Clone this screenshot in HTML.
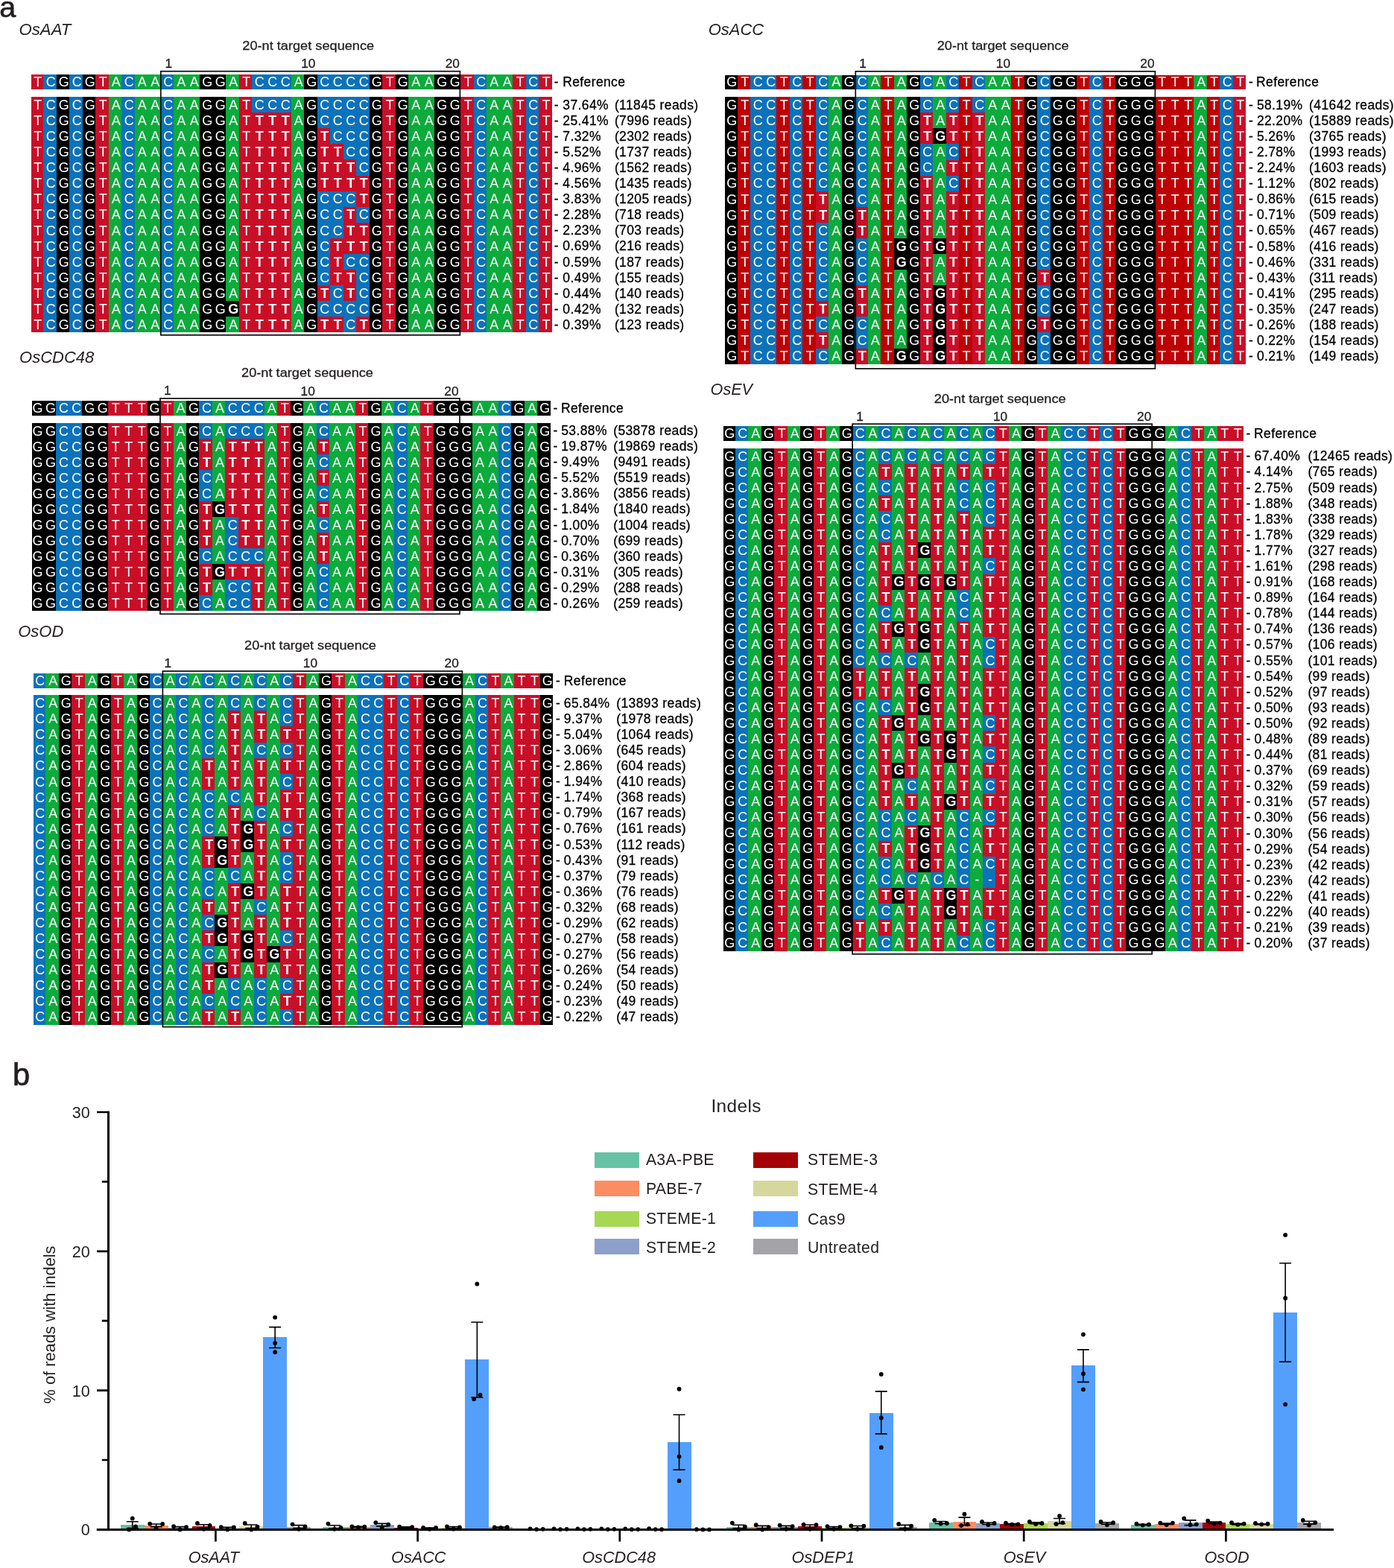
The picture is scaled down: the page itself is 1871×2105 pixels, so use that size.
<!DOCTYPE html>
<html lang="en"><head><meta charset="utf-8"><title>Figure</title>
<style>
html,body{margin:0;padding:0;background:#fff}
body{width:1871px;height:2105px;overflow:hidden}
svg{display:block;font-family:"Liberation Sans", Arial, Helvetica, sans-serif;fill:#231f20}
.s{fill:#fff;font-size:18px;text-anchor:middle}
.m{font-weight:bold}
.k{font-size:17.5px;fill:#000;stroke:#000;stroke-width:0.3px;letter-spacing:0.38px}
.w{stroke:#231f20;stroke-width:0.3px}
</style></head><body>
<svg width="1871" height="2105" viewBox="0 0 1871 2105">
<rect width="1871" height="2105" fill="#fff"/>
<text x="-0.65" y="23.4" font-size="39.5" stroke="#231f20" stroke-width="0.7">a</text>
<text x="16.9" y="1456.5" font-size="41.6" stroke="#231f20" stroke-width="0.7">b</text>
<text x="25.5" y="47" font-size="22.2" font-style="italic">OsAAT</text>
<text transform="translate(325.3 67.1) scale(1.07 1)" font-size="17" class="w">20-nt target sequence</text>
<text x="221.4" y="90.5" font-size="17.3" class="w">1</text>
<text x="404.2" y="90.5" font-size="17.3" class="w">10</text>
<text x="616.9" y="90.5" font-size="17.3" text-anchor="end" class="w">20</text>
<g shape-rendering="crispEdges">
<rect x="42" y="100.4" width="16.1" height="19.4" fill="#c90f28"/>
<rect x="58.1" y="100.4" width="17.5" height="19.4" fill="#0c72ba"/>
<rect x="75.6" y="100.4" width="17.5" height="19.4" fill="#000000"/>
<rect x="93.1" y="100.4" width="17.5" height="19.4" fill="#0c72ba"/>
<rect x="110.6" y="100.4" width="17.5" height="19.4" fill="#000000"/>
<rect x="128.1" y="100.4" width="17.5" height="19.4" fill="#c90f28"/>
<rect x="145.6" y="100.4" width="17.5" height="19.4" fill="#0cab3c"/>
<rect x="163.1" y="100.4" width="17.5" height="19.4" fill="#0c72ba"/>
<rect x="180.6" y="100.4" width="35" height="19.4" fill="#0cab3c"/>
<rect x="215.6" y="100.4" width="17.5" height="19.4" fill="#0c72ba"/>
<rect x="233.1" y="100.4" width="35" height="19.4" fill="#0cab3c"/>
<rect x="268.1" y="100.4" width="35" height="19.4" fill="#000000"/>
<rect x="303.1" y="100.4" width="17.5" height="19.4" fill="#0cab3c"/>
<rect x="320.6" y="100.4" width="17.5" height="19.4" fill="#c90f28"/>
<rect x="338.1" y="100.4" width="52.5" height="19.4" fill="#0c72ba"/>
<rect x="390.6" y="100.4" width="17.5" height="19.4" fill="#0cab3c"/>
<rect x="408.1" y="100.4" width="17.5" height="19.4" fill="#000000"/>
<rect x="425.6" y="100.4" width="70" height="19.4" fill="#0c72ba"/>
<rect x="495.6" y="100.4" width="17.5" height="19.4" fill="#000000"/>
<rect x="513.1" y="100.4" width="17.5" height="19.4" fill="#c90f28"/>
<rect x="530.6" y="100.4" width="17.5" height="19.4" fill="#000000"/>
<rect x="548.1" y="100.4" width="35" height="19.4" fill="#0cab3c"/>
<rect x="583.1" y="100.4" width="35" height="19.4" fill="#000000"/>
<rect x="618.1" y="100.4" width="17.5" height="19.4" fill="#c90f28"/>
<rect x="635.6" y="100.4" width="17.5" height="19.4" fill="#0c72ba"/>
<rect x="653.1" y="100.4" width="35" height="19.4" fill="#0cab3c"/>
<rect x="688.1" y="100.4" width="17.5" height="19.4" fill="#c90f28"/>
<rect x="705.6" y="100.4" width="17.5" height="19.4" fill="#0c72ba"/>
<rect x="723.1" y="100.4" width="17.5" height="19.4" fill="#c90f28"/>
<rect x="42" y="130.1" width="16.1" height="316.2" fill="#c90f28"/>
<rect x="58.1" y="130.1" width="17.5" height="316.2" fill="#0c72ba"/>
<rect x="75.6" y="130.1" width="17.5" height="316.2" fill="#000000"/>
<rect x="93.1" y="130.1" width="17.5" height="316.2" fill="#0c72ba"/>
<rect x="110.6" y="130.1" width="17.5" height="316.2" fill="#000000"/>
<rect x="128.1" y="130.1" width="17.5" height="316.2" fill="#c90f28"/>
<rect x="145.6" y="130.1" width="17.5" height="316.2" fill="#0cab3c"/>
<rect x="163.1" y="130.1" width="17.5" height="316.2" fill="#0c72ba"/>
<rect x="180.6" y="130.1" width="35" height="316.2" fill="#0cab3c"/>
<rect x="215.6" y="130.1" width="17.5" height="316.2" fill="#0c72ba"/>
<rect x="233.1" y="130.1" width="35" height="316.2" fill="#0cab3c"/>
<rect x="268.1" y="130.1" width="35" height="316.2" fill="#000000"/>
<rect x="303.1" y="130.1" width="17.5" height="274.04" fill="#0cab3c"/>
<rect x="303.1" y="404.14" width="17.5" height="21.08" fill="#000000"/>
<rect x="303.1" y="425.22" width="17.5" height="21.08" fill="#0cab3c"/>
<rect x="320.6" y="130.1" width="17.5" height="316.2" fill="#c90f28"/>
<rect x="338.1" y="130.1" width="52.5" height="21.08" fill="#0c72ba"/>
<rect x="338.1" y="151.18" width="52.5" height="295.12" fill="#c90f28"/>
<rect x="390.6" y="130.1" width="17.5" height="316.2" fill="#0cab3c"/>
<rect x="408.1" y="130.1" width="17.5" height="316.2" fill="#000000"/>
<rect x="425.6" y="130.1" width="17.5" height="42.16" fill="#0c72ba"/>
<rect x="425.6" y="172.26" width="17.5" height="84.32" fill="#c90f28"/>
<rect x="425.6" y="256.58" width="17.5" height="126.48" fill="#0c72ba"/>
<rect x="425.6" y="383.06" width="17.5" height="21.08" fill="#c90f28"/>
<rect x="425.6" y="404.14" width="17.5" height="21.08" fill="#0c72ba"/>
<rect x="425.6" y="425.22" width="35" height="21.08" fill="#c90f28"/>
<rect x="443.1" y="130.1" width="17.5" height="63.24" fill="#0c72ba"/>
<rect x="443.1" y="193.34" width="17.5" height="63.24" fill="#c90f28"/>
<rect x="443.1" y="256.58" width="17.5" height="63.24" fill="#0c72ba"/>
<rect x="443.1" y="319.82" width="17.5" height="63.24" fill="#c90f28"/>
<rect x="443.1" y="383.06" width="17.5" height="42.16" fill="#0c72ba"/>
<rect x="460.6" y="130.1" width="17.5" height="84.32" fill="#0c72ba"/>
<rect x="460.6" y="214.42" width="17.5" height="42.16" fill="#c90f28"/>
<rect x="460.6" y="256.58" width="17.5" height="21.08" fill="#0c72ba"/>
<rect x="460.6" y="277.66" width="17.5" height="63.24" fill="#c90f28"/>
<rect x="460.6" y="340.9" width="17.5" height="21.08" fill="#0c72ba"/>
<rect x="460.6" y="361.98" width="17.5" height="42.16" fill="#c90f28"/>
<rect x="460.6" y="404.14" width="17.5" height="42.16" fill="#0c72ba"/>
<rect x="478.1" y="130.1" width="17.5" height="105.4" fill="#0c72ba"/>
<rect x="478.1" y="235.5" width="17.5" height="42.16" fill="#c90f28"/>
<rect x="478.1" y="277.66" width="17.5" height="21.08" fill="#0c72ba"/>
<rect x="478.1" y="298.74" width="17.5" height="42.16" fill="#c90f28"/>
<rect x="478.1" y="340.9" width="17.5" height="84.32" fill="#0c72ba"/>
<rect x="478.1" y="425.22" width="17.5" height="21.08" fill="#c90f28"/>
<rect x="495.6" y="130.1" width="17.5" height="316.2" fill="#000000"/>
<rect x="513.1" y="130.1" width="17.5" height="316.2" fill="#c90f28"/>
<rect x="530.6" y="130.1" width="17.5" height="316.2" fill="#000000"/>
<rect x="548.1" y="130.1" width="35" height="316.2" fill="#0cab3c"/>
<rect x="583.1" y="130.1" width="35" height="316.2" fill="#000000"/>
<rect x="618.1" y="130.1" width="17.5" height="316.2" fill="#c90f28"/>
<rect x="635.6" y="130.1" width="17.5" height="316.2" fill="#0c72ba"/>
<rect x="653.1" y="130.1" width="35" height="316.2" fill="#0cab3c"/>
<rect x="688.1" y="130.1" width="17.5" height="316.2" fill="#c90f28"/>
<rect x="705.6" y="130.1" width="17.5" height="316.2" fill="#0c72ba"/>
<rect x="723.1" y="130.1" width="17.5" height="316.2" fill="#c90f28"/>
</g>
<g class="s">
<text y="116.1" x="50.65 68.15 85.65 103.15 120.65 138.15 155.65 173.15 190.65 208.15 225.65 243.15 260.65 278.15 295.65 313.15 330.65 348.15 365.65 383.15 400.65 418.15 435.65 453.15 470.65 488.15 505.65 523.15 540.65 558.15 575.65 593.15 610.65 628.15 645.65 663.15 680.65 698.15 715.65 733.15">TCGCGTACAACAAGGATCCCAGCCCCGTGAAGGTCAATCT</text>
<text y="147.1" x="50.65 68.15 85.65 103.15 120.65 138.15 155.65 173.15 190.65 208.15 225.65 243.15 260.65 278.15 295.65 313.15 330.65 348.15 365.65 383.15 400.65 418.15 435.65 453.15 470.65 488.15 505.65 523.15 540.65 558.15 575.65 593.15 610.65 628.15 645.65 663.15 680.65 698.15 715.65 733.15">TCGCGTACAACAAGGATCCCAGCCCCGTGAAGGTCAATCT</text>
<text y="168.15" x="50.65 68.15 85.65 103.15 120.65 138.15 155.65 173.15 190.65 208.15 225.65 243.15 260.65 278.15 295.65 313.15 330.65 348.15 365.65 383.15 400.65 418.15 435.65 453.15 470.65 488.15 505.65 523.15 540.65 558.15 575.65 593.15 610.65 628.15 645.65 663.15 680.65 698.15 715.65 733.15">TCGCGTACAACAAGGAT<tspan class="m">TTT</tspan>AGCCCCGTGAAGGTCAATCT</text>
<text y="189.2" x="50.65 68.15 85.65 103.15 120.65 138.15 155.65 173.15 190.65 208.15 225.65 243.15 260.65 278.15 295.65 313.15 330.65 348.15 365.65 383.15 400.65 418.15 435.65 453.15 470.65 488.15 505.65 523.15 540.65 558.15 575.65 593.15 610.65 628.15 645.65 663.15 680.65 698.15 715.65 733.15">TCGCGTACAACAAGGAT<tspan class="m">TTT</tspan>AG<tspan class="m">T</tspan>CCCGTGAAGGTCAATCT</text>
<text y="210.25" x="50.65 68.15 85.65 103.15 120.65 138.15 155.65 173.15 190.65 208.15 225.65 243.15 260.65 278.15 295.65 313.15 330.65 348.15 365.65 383.15 400.65 418.15 435.65 453.15 470.65 488.15 505.65 523.15 540.65 558.15 575.65 593.15 610.65 628.15 645.65 663.15 680.65 698.15 715.65 733.15">TCGCGTACAACAAGGAT<tspan class="m">TTT</tspan>AG<tspan class="m">TT</tspan>CCGTGAAGGTCAATCT</text>
<text y="231.3" x="50.65 68.15 85.65 103.15 120.65 138.15 155.65 173.15 190.65 208.15 225.65 243.15 260.65 278.15 295.65 313.15 330.65 348.15 365.65 383.15 400.65 418.15 435.65 453.15 470.65 488.15 505.65 523.15 540.65 558.15 575.65 593.15 610.65 628.15 645.65 663.15 680.65 698.15 715.65 733.15">TCGCGTACAACAAGGAT<tspan class="m">TTT</tspan>AG<tspan class="m">TTT</tspan>CGTGAAGGTCAATCT</text>
<text y="252.35" x="50.65 68.15 85.65 103.15 120.65 138.15 155.65 173.15 190.65 208.15 225.65 243.15 260.65 278.15 295.65 313.15 330.65 348.15 365.65 383.15 400.65 418.15 435.65 453.15 470.65 488.15 505.65 523.15 540.65 558.15 575.65 593.15 610.65 628.15 645.65 663.15 680.65 698.15 715.65 733.15">TCGCGTACAACAAGGAT<tspan class="m">TTT</tspan>AG<tspan class="m">TTTT</tspan>GTGAAGGTCAATCT</text>
<text y="273.4" x="50.65 68.15 85.65 103.15 120.65 138.15 155.65 173.15 190.65 208.15 225.65 243.15 260.65 278.15 295.65 313.15 330.65 348.15 365.65 383.15 400.65 418.15 435.65 453.15 470.65 488.15 505.65 523.15 540.65 558.15 575.65 593.15 610.65 628.15 645.65 663.15 680.65 698.15 715.65 733.15">TCGCGTACAACAAGGAT<tspan class="m">TTT</tspan>AGCCC<tspan class="m">T</tspan>GTGAAGGTCAATCT</text>
<text y="294.45" x="50.65 68.15 85.65 103.15 120.65 138.15 155.65 173.15 190.65 208.15 225.65 243.15 260.65 278.15 295.65 313.15 330.65 348.15 365.65 383.15 400.65 418.15 435.65 453.15 470.65 488.15 505.65 523.15 540.65 558.15 575.65 593.15 610.65 628.15 645.65 663.15 680.65 698.15 715.65 733.15">TCGCGTACAACAAGGAT<tspan class="m">TTT</tspan>AGCC<tspan class="m">T</tspan>CGTGAAGGTCAATCT</text>
<text y="315.5" x="50.65 68.15 85.65 103.15 120.65 138.15 155.65 173.15 190.65 208.15 225.65 243.15 260.65 278.15 295.65 313.15 330.65 348.15 365.65 383.15 400.65 418.15 435.65 453.15 470.65 488.15 505.65 523.15 540.65 558.15 575.65 593.15 610.65 628.15 645.65 663.15 680.65 698.15 715.65 733.15">TCGCGTACAACAAGGAT<tspan class="m">TTT</tspan>AGCC<tspan class="m">TT</tspan>GTGAAGGTCAATCT</text>
<text y="336.55" x="50.65 68.15 85.65 103.15 120.65 138.15 155.65 173.15 190.65 208.15 225.65 243.15 260.65 278.15 295.65 313.15 330.65 348.15 365.65 383.15 400.65 418.15 435.65 453.15 470.65 488.15 505.65 523.15 540.65 558.15 575.65 593.15 610.65 628.15 645.65 663.15 680.65 698.15 715.65 733.15">TCGCGTACAACAAGGAT<tspan class="m">TTT</tspan>AGC<tspan class="m">TTT</tspan>GTGAAGGTCAATCT</text>
<text y="357.6" x="50.65 68.15 85.65 103.15 120.65 138.15 155.65 173.15 190.65 208.15 225.65 243.15 260.65 278.15 295.65 313.15 330.65 348.15 365.65 383.15 400.65 418.15 435.65 453.15 470.65 488.15 505.65 523.15 540.65 558.15 575.65 593.15 610.65 628.15 645.65 663.15 680.65 698.15 715.65 733.15">TCGCGTACAACAAGGAT<tspan class="m">TTT</tspan>AGC<tspan class="m">T</tspan>CCGTGAAGGTCAATCT</text>
<text y="378.65" x="50.65 68.15 85.65 103.15 120.65 138.15 155.65 173.15 190.65 208.15 225.65 243.15 260.65 278.15 295.65 313.15 330.65 348.15 365.65 383.15 400.65 418.15 435.65 453.15 470.65 488.15 505.65 523.15 540.65 558.15 575.65 593.15 610.65 628.15 645.65 663.15 680.65 698.15 715.65 733.15">TCGCGTACAACAAGGAT<tspan class="m">TTT</tspan>AGC<tspan class="m">TT</tspan>CGTGAAGGTCAATCT</text>
<text y="399.7" x="50.65 68.15 85.65 103.15 120.65 138.15 155.65 173.15 190.65 208.15 225.65 243.15 260.65 278.15 295.65 313.15 330.65 348.15 365.65 383.15 400.65 418.15 435.65 453.15 470.65 488.15 505.65 523.15 540.65 558.15 575.65 593.15 610.65 628.15 645.65 663.15 680.65 698.15 715.65 733.15">TCGCGTACAACAAGGAT<tspan class="m">TTT</tspan>AG<tspan class="m">T</tspan>C<tspan class="m">T</tspan>CGTGAAGGTCAATCT</text>
<text y="420.75" x="50.65 68.15 85.65 103.15 120.65 138.15 155.65 173.15 190.65 208.15 225.65 243.15 260.65 278.15 295.65 313.15 330.65 348.15 365.65 383.15 400.65 418.15 435.65 453.15 470.65 488.15 505.65 523.15 540.65 558.15 575.65 593.15 610.65 628.15 645.65 663.15 680.65 698.15 715.65 733.15">TCGCGTACAACAAGG<tspan class="m">G</tspan>T<tspan class="m">TTT</tspan>AGCCCCGTGAAGGTCAATCT</text>
<text y="441.8" x="50.65 68.15 85.65 103.15 120.65 138.15 155.65 173.15 190.65 208.15 225.65 243.15 260.65 278.15 295.65 313.15 330.65 348.15 365.65 383.15 400.65 418.15 435.65 453.15 470.65 488.15 505.65 523.15 540.65 558.15 575.65 593.15 610.65 628.15 645.65 663.15 680.65 698.15 715.65 733.15">TCGCGTACAACAAGGAT<tspan class="m">TTT</tspan>AG<tspan class="m">TT</tspan>C<tspan class="m">T</tspan>GTGAAGGTCAATCT</text>
</g>
<g class="k">
<text y="115.8"><tspan x="743.85">- </tspan><tspan x="755.2" class="r">Reference</tspan></text>
<text y="146.7"><tspan x="743.85">- </tspan><tspan x="755.3">37.64%</tspan><tspan x="824.9" class="r">(11845 reads)</tspan></text>
<text y="167.78"><tspan x="743.85">- </tspan><tspan x="755.3">25.41%</tspan><tspan x="824.9" class="r">(7996 reads)</tspan></text>
<text y="188.86"><tspan x="743.85">- </tspan><tspan x="755.3">7.32%</tspan><tspan x="824.9" class="r">(2302 reads)</tspan></text>
<text y="209.94"><tspan x="743.85">- </tspan><tspan x="755.3">5.52%</tspan><tspan x="824.9" class="r">(1737 reads)</tspan></text>
<text y="231.02"><tspan x="743.85">- </tspan><tspan x="755.3">4.96%</tspan><tspan x="824.9" class="r">(1562 reads)</tspan></text>
<text y="252.1"><tspan x="743.85">- </tspan><tspan x="755.3">4.56%</tspan><tspan x="824.9" class="r">(1435 reads)</tspan></text>
<text y="273.18"><tspan x="743.85">- </tspan><tspan x="755.3">3.83%</tspan><tspan x="824.9" class="r">(1205 reads)</tspan></text>
<text y="294.26"><tspan x="743.85">- </tspan><tspan x="755.3">2.28%</tspan><tspan x="824.9" class="r">(718 reads)</tspan></text>
<text y="315.34"><tspan x="743.85">- </tspan><tspan x="755.3">2.23%</tspan><tspan x="824.9" class="r">(703 reads)</tspan></text>
<text y="336.42"><tspan x="743.85">- </tspan><tspan x="755.3">0.69%</tspan><tspan x="824.9" class="r">(216 reads)</tspan></text>
<text y="357.5"><tspan x="743.85">- </tspan><tspan x="755.3">0.59%</tspan><tspan x="824.9" class="r">(187 reads)</tspan></text>
<text y="378.58"><tspan x="743.85">- </tspan><tspan x="755.3">0.49%</tspan><tspan x="824.9" class="r">(155 reads)</tspan></text>
<text y="399.66"><tspan x="743.85">- </tspan><tspan x="755.3">0.44%</tspan><tspan x="824.9" class="r">(140 reads)</tspan></text>
<text y="420.74"><tspan x="743.85">- </tspan><tspan x="755.3">0.42%</tspan><tspan x="824.9" class="r">(132 reads)</tspan></text>
<text y="441.82"><tspan x="743.85">- </tspan><tspan x="755.3">0.39%</tspan><tspan x="824.9" class="r">(123 reads)</tspan></text>
</g>
<rect x="215.8" y="95.7" width="401.6" height="354.1" fill="none" stroke="#0a0a0a" stroke-width="1.7"/>
<text x="950.7" y="47.3" font-size="22" font-style="italic">OsACC</text>
<text transform="translate(1257.7 66.6) scale(1.07 1)" font-size="17" class="w">20-nt target sequence</text>
<text x="1153.2" y="90.6" font-size="17.3" class="w">1</text>
<text x="1336.8" y="90.6" font-size="17.3" class="w">10</text>
<text x="1549.6" y="90.6" font-size="17.3" text-anchor="end" class="w">20</text>
<g shape-rendering="crispEdges">
<rect x="973.4" y="100.9" width="16.4" height="19.2" fill="#000000"/>
<rect x="989.8" y="100.9" width="17.5" height="19.2" fill="#be0004"/>
<rect x="1007.29" y="100.9" width="35" height="19.2" fill="#0c72ba"/>
<rect x="1042.29" y="100.9" width="17.5" height="19.2" fill="#be0004"/>
<rect x="1059.79" y="100.9" width="17.5" height="19.2" fill="#0c72ba"/>
<rect x="1077.28" y="100.9" width="17.5" height="19.2" fill="#be0004"/>
<rect x="1094.78" y="100.9" width="17.5" height="19.2" fill="#0c72ba"/>
<rect x="1112.28" y="100.9" width="17.5" height="19.2" fill="#0cab3c"/>
<rect x="1129.78" y="100.9" width="17.5" height="19.2" fill="#000000"/>
<rect x="1147.28" y="100.9" width="17.5" height="19.2" fill="#0c72ba"/>
<rect x="1164.77" y="100.9" width="17.5" height="19.2" fill="#0cab3c"/>
<rect x="1182.27" y="100.9" width="17.5" height="19.2" fill="#be0004"/>
<rect x="1199.77" y="100.9" width="17.5" height="19.2" fill="#0cab3c"/>
<rect x="1217.26" y="100.9" width="17.5" height="19.2" fill="#000000"/>
<rect x="1234.76" y="100.9" width="17.5" height="19.2" fill="#0c72ba"/>
<rect x="1252.26" y="100.9" width="17.5" height="19.2" fill="#0cab3c"/>
<rect x="1269.76" y="100.9" width="17.5" height="19.2" fill="#0c72ba"/>
<rect x="1287.26" y="100.9" width="17.5" height="19.2" fill="#be0004"/>
<rect x="1304.75" y="100.9" width="17.5" height="19.2" fill="#0c72ba"/>
<rect x="1322.25" y="100.9" width="34.99" height="19.2" fill="#0cab3c"/>
<rect x="1357.24" y="100.9" width="17.5" height="19.2" fill="#be0004"/>
<rect x="1374.74" y="100.9" width="17.5" height="19.2" fill="#000000"/>
<rect x="1392.24" y="100.9" width="17.5" height="19.2" fill="#0c72ba"/>
<rect x="1409.74" y="100.9" width="35" height="19.2" fill="#000000"/>
<rect x="1444.73" y="100.9" width="17.5" height="19.2" fill="#be0004"/>
<rect x="1462.23" y="100.9" width="17.5" height="19.2" fill="#0c72ba"/>
<rect x="1479.73" y="100.9" width="17.5" height="19.2" fill="#be0004"/>
<rect x="1497.22" y="100.9" width="52.49" height="19.2" fill="#000000"/>
<rect x="1549.72" y="100.9" width="52.49" height="19.2" fill="#be0004"/>
<rect x="1602.21" y="100.9" width="17.5" height="19.2" fill="#0cab3c"/>
<rect x="1619.71" y="100.9" width="17.5" height="19.2" fill="#be0004"/>
<rect x="1637.2" y="100.9" width="17.5" height="19.2" fill="#0c72ba"/>
<rect x="1654.7" y="100.9" width="17.5" height="19.2" fill="#c90f28"/>
<rect x="973.4" y="130.2" width="16.4" height="358.4" fill="#000000"/>
<rect x="989.8" y="130.2" width="17.5" height="358.4" fill="#be0004"/>
<rect x="1007.29" y="130.2" width="35" height="358.4" fill="#0c72ba"/>
<rect x="1042.29" y="130.2" width="17.5" height="358.4" fill="#be0004"/>
<rect x="1059.79" y="130.2" width="17.5" height="358.4" fill="#0c72ba"/>
<rect x="1077.28" y="130.2" width="17.5" height="358.4" fill="#be0004"/>
<rect x="1094.78" y="130.2" width="17.5" height="126.49" fill="#0c72ba"/>
<rect x="1094.78" y="256.69" width="17.5" height="42.16" fill="#c90f28"/>
<rect x="1094.78" y="298.86" width="17.5" height="105.41" fill="#0c72ba"/>
<rect x="1094.78" y="404.27" width="17.5" height="21.08" fill="#c90f28"/>
<rect x="1094.78" y="425.35" width="17.5" height="21.08" fill="#0c72ba"/>
<rect x="1094.78" y="446.44" width="17.5" height="21.08" fill="#c90f28"/>
<rect x="1094.78" y="467.52" width="17.5" height="21.08" fill="#0c72ba"/>
<rect x="1112.28" y="130.2" width="17.5" height="358.4" fill="#0cab3c"/>
<rect x="1129.78" y="130.2" width="17.5" height="358.4" fill="#000000"/>
<rect x="1147.28" y="130.2" width="17.5" height="147.58" fill="#0c72ba"/>
<rect x="1147.28" y="277.78" width="17.5" height="42.16" fill="#c90f28"/>
<rect x="1147.28" y="319.94" width="17.5" height="63.25" fill="#0c72ba"/>
<rect x="1147.28" y="383.19" width="17.5" height="42.16" fill="#c90f28"/>
<rect x="1147.28" y="425.35" width="17.5" height="42.16" fill="#0c72ba"/>
<rect x="1147.28" y="467.52" width="17.5" height="21.08" fill="#c90f28"/>
<rect x="1164.77" y="130.2" width="17.5" height="358.4" fill="#0cab3c"/>
<rect x="1182.27" y="130.2" width="17.5" height="358.4" fill="#be0004"/>
<rect x="1199.77" y="130.2" width="17.5" height="189.74" fill="#0cab3c"/>
<rect x="1199.77" y="319.94" width="17.5" height="42.16" fill="#000000"/>
<rect x="1199.77" y="362.11" width="17.5" height="105.41" fill="#0cab3c"/>
<rect x="1199.77" y="467.52" width="17.5" height="21.08" fill="#000000"/>
<rect x="1217.26" y="130.2" width="17.5" height="358.4" fill="#000000"/>
<rect x="1234.76" y="130.2" width="17.5" height="21.08" fill="#0c72ba"/>
<rect x="1234.76" y="151.28" width="17.5" height="42.16" fill="#c90f28"/>
<rect x="1234.76" y="193.45" width="17.5" height="42.16" fill="#0c72ba"/>
<rect x="1234.76" y="235.61" width="17.5" height="252.99" fill="#c90f28"/>
<rect x="1252.26" y="130.2" width="17.5" height="42.16" fill="#0cab3c"/>
<rect x="1252.26" y="172.36" width="17.5" height="21.08" fill="#000000"/>
<rect x="1252.26" y="193.45" width="17.5" height="126.49" fill="#0cab3c"/>
<rect x="1252.26" y="319.94" width="17.5" height="21.08" fill="#000000"/>
<rect x="1252.26" y="341.02" width="17.5" height="42.16" fill="#0cab3c"/>
<rect x="1252.26" y="383.19" width="17.5" height="105.41" fill="#000000"/>
<rect x="1269.76" y="130.2" width="17.5" height="21.08" fill="#0c72ba"/>
<rect x="1269.76" y="151.28" width="17.5" height="42.16" fill="#c90f28"/>
<rect x="1269.76" y="193.45" width="17.5" height="21.08" fill="#0c72ba"/>
<rect x="1269.76" y="214.53" width="17.5" height="21.08" fill="#c90f28"/>
<rect x="1269.76" y="235.61" width="17.5" height="21.08" fill="#0c72ba"/>
<rect x="1269.76" y="256.69" width="17.5" height="231.91" fill="#c90f28"/>
<rect x="1287.26" y="130.2" width="17.5" height="358.4" fill="#be0004"/>
<rect x="1304.75" y="130.2" width="17.5" height="21.08" fill="#0c72ba"/>
<rect x="1304.75" y="151.28" width="17.5" height="337.32" fill="#c90f28"/>
<rect x="1322.25" y="130.2" width="34.99" height="358.4" fill="#0cab3c"/>
<rect x="1357.24" y="130.2" width="17.5" height="358.4" fill="#be0004"/>
<rect x="1374.74" y="130.2" width="17.5" height="358.4" fill="#000000"/>
<rect x="1392.24" y="130.2" width="17.5" height="231.91" fill="#0c72ba"/>
<rect x="1392.24" y="362.11" width="17.5" height="21.08" fill="#c90f28"/>
<rect x="1392.24" y="383.19" width="17.5" height="42.16" fill="#0c72ba"/>
<rect x="1392.24" y="425.35" width="17.5" height="21.08" fill="#c90f28"/>
<rect x="1392.24" y="446.44" width="17.5" height="42.16" fill="#0c72ba"/>
<rect x="1409.74" y="130.2" width="35" height="358.4" fill="#000000"/>
<rect x="1444.73" y="130.2" width="17.5" height="358.4" fill="#be0004"/>
<rect x="1462.23" y="130.2" width="17.5" height="358.4" fill="#0c72ba"/>
<rect x="1479.73" y="130.2" width="17.5" height="358.4" fill="#be0004"/>
<rect x="1497.22" y="130.2" width="52.49" height="358.4" fill="#000000"/>
<rect x="1549.72" y="130.2" width="52.49" height="358.4" fill="#be0004"/>
<rect x="1602.21" y="130.2" width="17.5" height="358.4" fill="#0cab3c"/>
<rect x="1619.71" y="130.2" width="17.5" height="358.4" fill="#be0004"/>
<rect x="1637.2" y="130.2" width="17.5" height="358.4" fill="#0c72ba"/>
<rect x="1654.7" y="130.2" width="17.5" height="358.4" fill="#c90f28"/>
</g>
<g class="s">
<text y="116.4" x="982.35 999.85 1017.34 1034.84 1052.34 1069.84 1087.33 1104.83 1122.33 1139.83 1157.32 1174.82 1192.32 1209.82 1227.31 1244.81 1262.31 1279.81 1297.3 1314.8 1332.3 1349.8 1367.29 1384.79 1402.29 1419.79 1437.28 1454.78 1472.28 1489.78 1507.27 1524.77 1542.27 1559.77 1577.26 1594.76 1612.26 1629.76 1647.25 1664.75">GTCCTCTCAGCATAGCACTCAATGCGGTCTGGGTTTATCT</text>
<text y="147.2" x="982.35 999.85 1017.34 1034.84 1052.34 1069.84 1087.33 1104.83 1122.33 1139.83 1157.32 1174.82 1192.32 1209.82 1227.31 1244.81 1262.31 1279.81 1297.3 1314.8 1332.3 1349.8 1367.29 1384.79 1402.29 1419.79 1437.28 1454.78 1472.28 1489.78 1507.27 1524.77 1542.27 1559.77 1577.26 1594.76 1612.26 1629.76 1647.25 1664.75">GTCCTCTCAGCATAGCACTCAATGCGGTCTGGGTTTATCT</text>
<text y="168.25" x="982.35 999.85 1017.34 1034.84 1052.34 1069.84 1087.33 1104.83 1122.33 1139.83 1157.32 1174.82 1192.32 1209.82 1227.31 1244.81 1262.31 1279.81 1297.3 1314.8 1332.3 1349.8 1367.29 1384.79 1402.29 1419.79 1437.28 1454.78 1472.28 1489.78 1507.27 1524.77 1542.27 1559.77 1577.26 1594.76 1612.26 1629.76 1647.25 1664.75">GTCCTCTCAGCATAG<tspan class="m">T</tspan>A<tspan class="m">T</tspan>T<tspan class="m">T</tspan>AATGCGGTCTGGGTTTATCT</text>
<text y="189.3" x="982.35 999.85 1017.34 1034.84 1052.34 1069.84 1087.33 1104.83 1122.33 1139.83 1157.32 1174.82 1192.32 1209.82 1227.31 1244.81 1262.31 1279.81 1297.3 1314.8 1332.3 1349.8 1367.29 1384.79 1402.29 1419.79 1437.28 1454.78 1472.28 1489.78 1507.27 1524.77 1542.27 1559.77 1577.26 1594.76 1612.26 1629.76 1647.25 1664.75">GTCCTCTCAGCATAG<tspan class="m">TGT</tspan>T<tspan class="m">T</tspan>AATGCGGTCTGGGTTTATCT</text>
<text y="210.36" x="982.35 999.85 1017.34 1034.84 1052.34 1069.84 1087.33 1104.83 1122.33 1139.83 1157.32 1174.82 1192.32 1209.82 1227.31 1244.81 1262.31 1279.81 1297.3 1314.8 1332.3 1349.8 1367.29 1384.79 1402.29 1419.79 1437.28 1454.78 1472.28 1489.78 1507.27 1524.77 1542.27 1559.77 1577.26 1594.76 1612.26 1629.76 1647.25 1664.75">GTCCTCTCAGCATAGCACT<tspan class="m">T</tspan>AATGCGGTCTGGGTTTATCT</text>
<text y="231.41" x="982.35 999.85 1017.34 1034.84 1052.34 1069.84 1087.33 1104.83 1122.33 1139.83 1157.32 1174.82 1192.32 1209.82 1227.31 1244.81 1262.31 1279.81 1297.3 1314.8 1332.3 1349.8 1367.29 1384.79 1402.29 1419.79 1437.28 1454.78 1472.28 1489.78 1507.27 1524.77 1542.27 1559.77 1577.26 1594.76 1612.26 1629.76 1647.25 1664.75">GTCCTCTCAGCATAGCA<tspan class="m">T</tspan>T<tspan class="m">T</tspan>AATGCGGTCTGGGTTTATCT</text>
<text y="252.46" x="982.35 999.85 1017.34 1034.84 1052.34 1069.84 1087.33 1104.83 1122.33 1139.83 1157.32 1174.82 1192.32 1209.82 1227.31 1244.81 1262.31 1279.81 1297.3 1314.8 1332.3 1349.8 1367.29 1384.79 1402.29 1419.79 1437.28 1454.78 1472.28 1489.78 1507.27 1524.77 1542.27 1559.77 1577.26 1594.76 1612.26 1629.76 1647.25 1664.75">GTCCTCTCAGCATAG<tspan class="m">T</tspan>ACT<tspan class="m">T</tspan>AATGCGGTCTGGGTTTATCT</text>
<text y="273.51" x="982.35 999.85 1017.34 1034.84 1052.34 1069.84 1087.33 1104.83 1122.33 1139.83 1157.32 1174.82 1192.32 1209.82 1227.31 1244.81 1262.31 1279.81 1297.3 1314.8 1332.3 1349.8 1367.29 1384.79 1402.29 1419.79 1437.28 1454.78 1472.28 1489.78 1507.27 1524.77 1542.27 1559.77 1577.26 1594.76 1612.26 1629.76 1647.25 1664.75">GTCCTCT<tspan class="m">T</tspan>AGCATAG<tspan class="m">T</tspan>A<tspan class="m">T</tspan>T<tspan class="m">T</tspan>AATGCGGTCTGGGTTTATCT</text>
<text y="294.57" x="982.35 999.85 1017.34 1034.84 1052.34 1069.84 1087.33 1104.83 1122.33 1139.83 1157.32 1174.82 1192.32 1209.82 1227.31 1244.81 1262.31 1279.81 1297.3 1314.8 1332.3 1349.8 1367.29 1384.79 1402.29 1419.79 1437.28 1454.78 1472.28 1489.78 1507.27 1524.77 1542.27 1559.77 1577.26 1594.76 1612.26 1629.76 1647.25 1664.75">GTCCTCT<tspan class="m">T</tspan>AG<tspan class="m">T</tspan>ATAG<tspan class="m">T</tspan>A<tspan class="m">T</tspan>T<tspan class="m">T</tspan>AATGCGGTCTGGGTTTATCT</text>
<text y="315.62" x="982.35 999.85 1017.34 1034.84 1052.34 1069.84 1087.33 1104.83 1122.33 1139.83 1157.32 1174.82 1192.32 1209.82 1227.31 1244.81 1262.31 1279.81 1297.3 1314.8 1332.3 1349.8 1367.29 1384.79 1402.29 1419.79 1437.28 1454.78 1472.28 1489.78 1507.27 1524.77 1542.27 1559.77 1577.26 1594.76 1612.26 1629.76 1647.25 1664.75">GTCCTCTCAG<tspan class="m">T</tspan>ATAG<tspan class="m">T</tspan>A<tspan class="m">T</tspan>T<tspan class="m">T</tspan>AATGCGGTCTGGGTTTATCT</text>
<text y="336.67" x="982.35 999.85 1017.34 1034.84 1052.34 1069.84 1087.33 1104.83 1122.33 1139.83 1157.32 1174.82 1192.32 1209.82 1227.31 1244.81 1262.31 1279.81 1297.3 1314.8 1332.3 1349.8 1367.29 1384.79 1402.29 1419.79 1437.28 1454.78 1472.28 1489.78 1507.27 1524.77 1542.27 1559.77 1577.26 1594.76 1612.26 1629.76 1647.25 1664.75">GTCCTCTCAGCAT<tspan class="m">G</tspan>G<tspan class="m">TGT</tspan>T<tspan class="m">T</tspan>AATGCGGTCTGGGTTTATCT</text>
<text y="357.72" x="982.35 999.85 1017.34 1034.84 1052.34 1069.84 1087.33 1104.83 1122.33 1139.83 1157.32 1174.82 1192.32 1209.82 1227.31 1244.81 1262.31 1279.81 1297.3 1314.8 1332.3 1349.8 1367.29 1384.79 1402.29 1419.79 1437.28 1454.78 1472.28 1489.78 1507.27 1524.77 1542.27 1559.77 1577.26 1594.76 1612.26 1629.76 1647.25 1664.75">GTCCTCTCAGCAT<tspan class="m">G</tspan>G<tspan class="m">T</tspan>A<tspan class="m">T</tspan>T<tspan class="m">T</tspan>AATGCGGTCTGGGTTTATCT</text>
<text y="378.78" x="982.35 999.85 1017.34 1034.84 1052.34 1069.84 1087.33 1104.83 1122.33 1139.83 1157.32 1174.82 1192.32 1209.82 1227.31 1244.81 1262.31 1279.81 1297.3 1314.8 1332.3 1349.8 1367.29 1384.79 1402.29 1419.79 1437.28 1454.78 1472.28 1489.78 1507.27 1524.77 1542.27 1559.77 1577.26 1594.76 1612.26 1629.76 1647.25 1664.75">GTCCTCTCAGCATAG<tspan class="m">T</tspan>A<tspan class="m">T</tspan>T<tspan class="m">T</tspan>AATG<tspan class="m">T</tspan>GGTCTGGGTTTATCT</text>
<text y="399.83" x="982.35 999.85 1017.34 1034.84 1052.34 1069.84 1087.33 1104.83 1122.33 1139.83 1157.32 1174.82 1192.32 1209.82 1227.31 1244.81 1262.31 1279.81 1297.3 1314.8 1332.3 1349.8 1367.29 1384.79 1402.29 1419.79 1437.28 1454.78 1472.28 1489.78 1507.27 1524.77 1542.27 1559.77 1577.26 1594.76 1612.26 1629.76 1647.25 1664.75">GTCCTCTCAG<tspan class="m">T</tspan>ATAG<tspan class="m">TGT</tspan>T<tspan class="m">T</tspan>AATGCGGTCTGGGTTTATCT</text>
<text y="420.88" x="982.35 999.85 1017.34 1034.84 1052.34 1069.84 1087.33 1104.83 1122.33 1139.83 1157.32 1174.82 1192.32 1209.82 1227.31 1244.81 1262.31 1279.81 1297.3 1314.8 1332.3 1349.8 1367.29 1384.79 1402.29 1419.79 1437.28 1454.78 1472.28 1489.78 1507.27 1524.77 1542.27 1559.77 1577.26 1594.76 1612.26 1629.76 1647.25 1664.75">GTCCTCT<tspan class="m">T</tspan>AG<tspan class="m">T</tspan>ATAG<tspan class="m">TGT</tspan>T<tspan class="m">T</tspan>AATGCGGTCTGGGTTTATCT</text>
<text y="441.93" x="982.35 999.85 1017.34 1034.84 1052.34 1069.84 1087.33 1104.83 1122.33 1139.83 1157.32 1174.82 1192.32 1209.82 1227.31 1244.81 1262.31 1279.81 1297.3 1314.8 1332.3 1349.8 1367.29 1384.79 1402.29 1419.79 1437.28 1454.78 1472.28 1489.78 1507.27 1524.77 1542.27 1559.77 1577.26 1594.76 1612.26 1629.76 1647.25 1664.75">GTCCTCTCAGCATAG<tspan class="m">TGT</tspan>T<tspan class="m">T</tspan>AATG<tspan class="m">T</tspan>GGTCTGGGTTTATCT</text>
<text y="462.99" x="982.35 999.85 1017.34 1034.84 1052.34 1069.84 1087.33 1104.83 1122.33 1139.83 1157.32 1174.82 1192.32 1209.82 1227.31 1244.81 1262.31 1279.81 1297.3 1314.8 1332.3 1349.8 1367.29 1384.79 1402.29 1419.79 1437.28 1454.78 1472.28 1489.78 1507.27 1524.77 1542.27 1559.77 1577.26 1594.76 1612.26 1629.76 1647.25 1664.75">GTCCTCT<tspan class="m">T</tspan>AGCATAG<tspan class="m">TGT</tspan>T<tspan class="m">T</tspan>AATGCGGTCTGGGTTTATCT</text>
<text y="484.04" x="982.35 999.85 1017.34 1034.84 1052.34 1069.84 1087.33 1104.83 1122.33 1139.83 1157.32 1174.82 1192.32 1209.82 1227.31 1244.81 1262.31 1279.81 1297.3 1314.8 1332.3 1349.8 1367.29 1384.79 1402.29 1419.79 1437.28 1454.78 1472.28 1489.78 1507.27 1524.77 1542.27 1559.77 1577.26 1594.76 1612.26 1629.76 1647.25 1664.75">GTCCTCTCAG<tspan class="m">T</tspan>AT<tspan class="m">G</tspan>G<tspan class="m">TGT</tspan>T<tspan class="m">T</tspan>AATGCGGTCTGGGTTTATCT</text>
</g>
<g class="k">
<text y="116.1"><tspan x="1675.95">- </tspan><tspan x="1686.1" class="r">Reference</tspan></text>
<text y="146.8"><tspan x="1675.95">- </tspan><tspan x="1686.9">58.19%</tspan><tspan x="1757.1" class="r">(41642 reads)</tspan></text>
<text y="167.88"><tspan x="1675.95">- </tspan><tspan x="1686.9">22.20%</tspan><tspan x="1757.1" class="r">(15889 reads)</tspan></text>
<text y="188.96"><tspan x="1675.95">- </tspan><tspan x="1686.9">5.26%</tspan><tspan x="1757.1" class="r">(3765 reads)</tspan></text>
<text y="210.05"><tspan x="1675.95">- </tspan><tspan x="1686.9">2.78%</tspan><tspan x="1757.1" class="r">(1993 reads)</tspan></text>
<text y="231.13"><tspan x="1675.95">- </tspan><tspan x="1686.9">2.24%</tspan><tspan x="1757.1" class="r">(1603 reads)</tspan></text>
<text y="252.21"><tspan x="1675.95">- </tspan><tspan x="1686.9">1.12%</tspan><tspan x="1757.1" class="r">(802 reads)</tspan></text>
<text y="273.29"><tspan x="1675.95">- </tspan><tspan x="1686.9">0.86%</tspan><tspan x="1757.1" class="r">(615 reads)</tspan></text>
<text y="294.38"><tspan x="1675.95">- </tspan><tspan x="1686.9">0.71%</tspan><tspan x="1757.1" class="r">(509 reads)</tspan></text>
<text y="315.46"><tspan x="1675.95">- </tspan><tspan x="1686.9">0.65%</tspan><tspan x="1757.1" class="r">(467 reads)</tspan></text>
<text y="336.54"><tspan x="1675.95">- </tspan><tspan x="1686.9">0.58%</tspan><tspan x="1757.1" class="r">(416 reads)</tspan></text>
<text y="357.62"><tspan x="1675.95">- </tspan><tspan x="1686.9">0.46%</tspan><tspan x="1757.1" class="r">(331 reads)</tspan></text>
<text y="378.71"><tspan x="1675.95">- </tspan><tspan x="1686.9">0.43%</tspan><tspan x="1757.1" class="r">(311 reads)</tspan></text>
<text y="399.79"><tspan x="1675.95">- </tspan><tspan x="1686.9">0.41%</tspan><tspan x="1757.1" class="r">(295 reads)</tspan></text>
<text y="420.87"><tspan x="1675.95">- </tspan><tspan x="1686.9">0.35%</tspan><tspan x="1757.1" class="r">(247 reads)</tspan></text>
<text y="441.95"><tspan x="1675.95">- </tspan><tspan x="1686.9">0.26%</tspan><tspan x="1757.1" class="r">(188 reads)</tspan></text>
<text y="463.04"><tspan x="1675.95">- </tspan><tspan x="1686.9">0.22%</tspan><tspan x="1757.1" class="r">(154 reads)</tspan></text>
<text y="484.12"><tspan x="1675.95">- </tspan><tspan x="1686.9">0.21%</tspan><tspan x="1757.1" class="r">(149 reads)</tspan></text>
</g>
<rect x="1148.3" y="95.8" width="402.1" height="399.1" fill="none" stroke="#0a0a0a" stroke-width="1.7"/>
<text x="26.1" y="487.2" font-size="22" font-style="italic">OsCDC48</text>
<text transform="translate(324.1 506) scale(1.07 1)" font-size="17" class="w">20-nt target sequence</text>
<text x="220.1" y="530.3" font-size="17.3" class="w">1</text>
<text x="403.6" y="530.6" font-size="17.3" class="w">10</text>
<text x="615.5" y="530.6" font-size="17.3" text-anchor="end" class="w">20</text>
<g shape-rendering="crispEdges">
<rect x="42.5" y="538.3" width="32.87" height="19.5" fill="#000000"/>
<rect x="75.37" y="538.3" width="34.92" height="19.5" fill="#0c72ba"/>
<rect x="110.28" y="538.3" width="34.92" height="19.5" fill="#000000"/>
<rect x="145.2" y="538.3" width="52.38" height="19.5" fill="#c90f28"/>
<rect x="197.58" y="538.3" width="17.46" height="19.5" fill="#000000"/>
<rect x="215.04" y="538.3" width="17.46" height="19.5" fill="#c90f28"/>
<rect x="232.5" y="538.3" width="17.46" height="19.5" fill="#0cab3c"/>
<rect x="249.95" y="538.3" width="17.46" height="19.5" fill="#000000"/>
<rect x="267.41" y="538.3" width="17.46" height="19.5" fill="#0c72ba"/>
<rect x="284.87" y="538.3" width="17.46" height="19.5" fill="#0cab3c"/>
<rect x="302.33" y="538.3" width="52.38" height="19.5" fill="#0c72ba"/>
<rect x="354.71" y="538.3" width="17.46" height="19.5" fill="#0cab3c"/>
<rect x="372.17" y="538.3" width="17.46" height="19.5" fill="#c90f28"/>
<rect x="389.62" y="538.3" width="17.46" height="19.5" fill="#000000"/>
<rect x="407.08" y="538.3" width="17.46" height="19.5" fill="#0cab3c"/>
<rect x="424.54" y="538.3" width="17.46" height="19.5" fill="#0c72ba"/>
<rect x="442" y="538.3" width="34.92" height="19.5" fill="#0cab3c"/>
<rect x="476.92" y="538.3" width="17.46" height="19.5" fill="#c90f28"/>
<rect x="494.38" y="538.3" width="17.46" height="19.5" fill="#000000"/>
<rect x="511.84" y="538.3" width="17.46" height="19.5" fill="#0cab3c"/>
<rect x="529.29" y="538.3" width="17.46" height="19.5" fill="#0c72ba"/>
<rect x="546.75" y="538.3" width="17.46" height="19.5" fill="#0cab3c"/>
<rect x="564.21" y="538.3" width="17.46" height="19.5" fill="#c90f28"/>
<rect x="581.67" y="538.3" width="52.38" height="19.5" fill="#000000"/>
<rect x="634.05" y="538.3" width="34.92" height="19.5" fill="#0cab3c"/>
<rect x="668.97" y="538.3" width="17.46" height="19.5" fill="#0c72ba"/>
<rect x="686.42" y="538.3" width="17.46" height="19.5" fill="#000000"/>
<rect x="703.88" y="538.3" width="17.46" height="19.5" fill="#0cab3c"/>
<rect x="721.34" y="538.3" width="17.46" height="19.5" fill="#000000"/>
<rect x="42.5" y="567.7" width="32.87" height="252.4" fill="#000000"/>
<rect x="75.37" y="567.7" width="34.92" height="252.4" fill="#0c72ba"/>
<rect x="110.28" y="567.7" width="34.92" height="252.4" fill="#000000"/>
<rect x="145.2" y="567.7" width="52.38" height="252.4" fill="#c90f28"/>
<rect x="197.58" y="567.7" width="17.46" height="252.4" fill="#000000"/>
<rect x="215.04" y="567.7" width="17.46" height="252.4" fill="#c90f28"/>
<rect x="232.5" y="567.7" width="17.46" height="252.4" fill="#0cab3c"/>
<rect x="249.95" y="567.7" width="17.46" height="252.4" fill="#000000"/>
<rect x="267.41" y="567.7" width="17.46" height="21.03" fill="#0c72ba"/>
<rect x="267.41" y="588.73" width="17.46" height="42.07" fill="#c90f28"/>
<rect x="267.41" y="630.8" width="17.46" height="42.07" fill="#0c72ba"/>
<rect x="267.41" y="672.87" width="17.46" height="63.1" fill="#c90f28"/>
<rect x="267.41" y="735.97" width="17.46" height="21.03" fill="#0c72ba"/>
<rect x="267.41" y="757" width="17.46" height="42.07" fill="#c90f28"/>
<rect x="267.41" y="799.07" width="17.46" height="21.03" fill="#0c72ba"/>
<rect x="284.87" y="567.7" width="17.46" height="105.17" fill="#0cab3c"/>
<rect x="284.87" y="672.87" width="17.46" height="21.03" fill="#000000"/>
<rect x="284.87" y="693.9" width="17.46" height="63.1" fill="#0cab3c"/>
<rect x="284.87" y="757" width="17.46" height="21.03" fill="#000000"/>
<rect x="284.87" y="778.03" width="17.46" height="42.07" fill="#0cab3c"/>
<rect x="302.33" y="567.7" width="52.38" height="21.03" fill="#0c72ba"/>
<rect x="302.33" y="588.73" width="17.46" height="105.17" fill="#c90f28"/>
<rect x="302.33" y="693.9" width="17.46" height="63.1" fill="#0c72ba"/>
<rect x="302.33" y="757" width="34.92" height="21.03" fill="#c90f28"/>
<rect x="302.33" y="778.03" width="34.92" height="42.07" fill="#0c72ba"/>
<rect x="319.79" y="588.73" width="34.92" height="147.23" fill="#c90f28"/>
<rect x="319.79" y="735.97" width="34.92" height="21.03" fill="#0c72ba"/>
<rect x="337.25" y="757" width="17.46" height="63.1" fill="#c90f28"/>
<rect x="354.71" y="567.7" width="17.46" height="252.4" fill="#0cab3c"/>
<rect x="372.17" y="567.7" width="17.46" height="252.4" fill="#c90f28"/>
<rect x="389.62" y="567.7" width="17.46" height="252.4" fill="#000000"/>
<rect x="407.08" y="567.7" width="17.46" height="252.4" fill="#0cab3c"/>
<rect x="424.54" y="567.7" width="17.46" height="21.03" fill="#0c72ba"/>
<rect x="424.54" y="588.73" width="17.46" height="21.03" fill="#c90f28"/>
<rect x="424.54" y="609.77" width="17.46" height="21.03" fill="#0c72ba"/>
<rect x="424.54" y="630.8" width="17.46" height="21.03" fill="#c90f28"/>
<rect x="424.54" y="651.83" width="17.46" height="21.03" fill="#0c72ba"/>
<rect x="424.54" y="672.87" width="17.46" height="21.03" fill="#c90f28"/>
<rect x="424.54" y="693.9" width="17.46" height="21.03" fill="#0c72ba"/>
<rect x="424.54" y="714.93" width="17.46" height="42.07" fill="#c90f28"/>
<rect x="424.54" y="757" width="17.46" height="63.1" fill="#0c72ba"/>
<rect x="442" y="567.7" width="34.92" height="252.4" fill="#0cab3c"/>
<rect x="476.92" y="567.7" width="17.46" height="252.4" fill="#c90f28"/>
<rect x="494.38" y="567.7" width="17.46" height="252.4" fill="#000000"/>
<rect x="511.84" y="567.7" width="17.46" height="252.4" fill="#0cab3c"/>
<rect x="529.29" y="567.7" width="17.46" height="252.4" fill="#0c72ba"/>
<rect x="546.75" y="567.7" width="17.46" height="252.4" fill="#0cab3c"/>
<rect x="564.21" y="567.7" width="17.46" height="252.4" fill="#c90f28"/>
<rect x="581.67" y="567.7" width="52.38" height="252.4" fill="#000000"/>
<rect x="634.05" y="567.7" width="34.92" height="252.4" fill="#0cab3c"/>
<rect x="668.97" y="567.7" width="17.46" height="252.4" fill="#0c72ba"/>
<rect x="686.42" y="567.7" width="17.46" height="252.4" fill="#000000"/>
<rect x="703.88" y="567.7" width="17.46" height="252.4" fill="#0cab3c"/>
<rect x="721.34" y="567.7" width="17.46" height="252.4" fill="#000000"/>
</g>
<g class="s">
<text y="554.1" x="50.48 67.94 85.4 102.86 120.31 137.77 155.23 172.69 190.15 207.61 225.07 242.53 259.98 277.44 294.9 312.36 329.82 347.28 364.74 382.2 399.65 417.11 434.57 452.03 469.49 486.95 504.41 521.87 539.32 556.78 574.24 591.7 609.16 626.62 644.08 661.54 678.99 696.45 713.91 731.37">GGCCGGTTTGTAGCACCCATGACAATGACATGGGAACGAG</text>
<text y="584.7" x="50.48 67.94 85.4 102.86 120.31 137.77 155.23 172.69 190.15 207.61 225.07 242.53 259.98 277.44 294.9 312.36 329.82 347.28 364.74 382.2 399.65 417.11 434.57 452.03 469.49 486.95 504.41 521.87 539.32 556.78 574.24 591.7 609.16 626.62 644.08 661.54 678.99 696.45 713.91 731.37">GGCCGGTTTGTAGCACCCATGACAATGACATGGGAACGAG</text>
<text y="605.7" x="50.48 67.94 85.4 102.86 120.31 137.77 155.23 172.69 190.15 207.61 225.07 242.53 259.98 277.44 294.9 312.36 329.82 347.28 364.74 382.2 399.65 417.11 434.57 452.03 469.49 486.95 504.41 521.87 539.32 556.78 574.24 591.7 609.16 626.62 644.08 661.54 678.99 696.45 713.91 731.37">GGCCGGTTTGTAG<tspan class="m">T</tspan>A<tspan class="m">TTT</tspan>ATGA<tspan class="m">T</tspan>AATGACATGGGAACGAG</text>
<text y="626.71" x="50.48 67.94 85.4 102.86 120.31 137.77 155.23 172.69 190.15 207.61 225.07 242.53 259.98 277.44 294.9 312.36 329.82 347.28 364.74 382.2 399.65 417.11 434.57 452.03 469.49 486.95 504.41 521.87 539.32 556.78 574.24 591.7 609.16 626.62 644.08 661.54 678.99 696.45 713.91 731.37">GGCCGGTTTGTAG<tspan class="m">T</tspan>A<tspan class="m">TTT</tspan>ATGACAATGACATGGGAACGAG</text>
<text y="647.71" x="50.48 67.94 85.4 102.86 120.31 137.77 155.23 172.69 190.15 207.61 225.07 242.53 259.98 277.44 294.9 312.36 329.82 347.28 364.74 382.2 399.65 417.11 434.57 452.03 469.49 486.95 504.41 521.87 539.32 556.78 574.24 591.7 609.16 626.62 644.08 661.54 678.99 696.45 713.91 731.37">GGCCGGTTTGTAGCA<tspan class="m">TTT</tspan>ATGA<tspan class="m">T</tspan>AATGACATGGGAACGAG</text>
<text y="668.71" x="50.48 67.94 85.4 102.86 120.31 137.77 155.23 172.69 190.15 207.61 225.07 242.53 259.98 277.44 294.9 312.36 329.82 347.28 364.74 382.2 399.65 417.11 434.57 452.03 469.49 486.95 504.41 521.87 539.32 556.78 574.24 591.7 609.16 626.62 644.08 661.54 678.99 696.45 713.91 731.37">GGCCGGTTTGTAGCA<tspan class="m">TTT</tspan>ATGACAATGACATGGGAACGAG</text>
<text y="689.72" x="50.48 67.94 85.4 102.86 120.31 137.77 155.23 172.69 190.15 207.61 225.07 242.53 259.98 277.44 294.9 312.36 329.82 347.28 364.74 382.2 399.65 417.11 434.57 452.03 469.49 486.95 504.41 521.87 539.32 556.78 574.24 591.7 609.16 626.62 644.08 661.54 678.99 696.45 713.91 731.37">GGCCGGTTTGTAG<tspan class="m">TGTTT</tspan>ATGA<tspan class="m">T</tspan>AATGACATGGGAACGAG</text>
<text y="710.72" x="50.48 67.94 85.4 102.86 120.31 137.77 155.23 172.69 190.15 207.61 225.07 242.53 259.98 277.44 294.9 312.36 329.82 347.28 364.74 382.2 399.65 417.11 434.57 452.03 469.49 486.95 504.41 521.87 539.32 556.78 574.24 591.7 609.16 626.62 644.08 661.54 678.99 696.45 713.91 731.37">GGCCGGTTTGTAG<tspan class="m">T</tspan>AC<tspan class="m">TT</tspan>ATGACAATGACATGGGAACGAG</text>
<text y="731.72" x="50.48 67.94 85.4 102.86 120.31 137.77 155.23 172.69 190.15 207.61 225.07 242.53 259.98 277.44 294.9 312.36 329.82 347.28 364.74 382.2 399.65 417.11 434.57 452.03 469.49 486.95 504.41 521.87 539.32 556.78 574.24 591.7 609.16 626.62 644.08 661.54 678.99 696.45 713.91 731.37">GGCCGGTTTGTAG<tspan class="m">T</tspan>AC<tspan class="m">TT</tspan>ATGA<tspan class="m">T</tspan>AATGACATGGGAACGAG</text>
<text y="752.73" x="50.48 67.94 85.4 102.86 120.31 137.77 155.23 172.69 190.15 207.61 225.07 242.53 259.98 277.44 294.9 312.36 329.82 347.28 364.74 382.2 399.65 417.11 434.57 452.03 469.49 486.95 504.41 521.87 539.32 556.78 574.24 591.7 609.16 626.62 644.08 661.54 678.99 696.45 713.91 731.37">GGCCGGTTTGTAGCACCCATGA<tspan class="m">T</tspan>AATGACATGGGAACGAG</text>
<text y="773.73" x="50.48 67.94 85.4 102.86 120.31 137.77 155.23 172.69 190.15 207.61 225.07 242.53 259.98 277.44 294.9 312.36 329.82 347.28 364.74 382.2 399.65 417.11 434.57 452.03 469.49 486.95 504.41 521.87 539.32 556.78 574.24 591.7 609.16 626.62 644.08 661.54 678.99 696.45 713.91 731.37">GGCCGGTTTGTAG<tspan class="m">TGTTT</tspan>ATGACAATGACATGGGAACGAG</text>
<text y="794.73" x="50.48 67.94 85.4 102.86 120.31 137.77 155.23 172.69 190.15 207.61 225.07 242.53 259.98 277.44 294.9 312.36 329.82 347.28 364.74 382.2 399.65 417.11 434.57 452.03 469.49 486.95 504.41 521.87 539.32 556.78 574.24 591.7 609.16 626.62 644.08 661.54 678.99 696.45 713.91 731.37">GGCCGGTTTGTAG<tspan class="m">T</tspan>ACC<tspan class="m">T</tspan>ATGACAATGACATGGGAACGAG</text>
<text y="815.74" x="50.48 67.94 85.4 102.86 120.31 137.77 155.23 172.69 190.15 207.61 225.07 242.53 259.98 277.44 294.9 312.36 329.82 347.28 364.74 382.2 399.65 417.11 434.57 452.03 469.49 486.95 504.41 521.87 539.32 556.78 574.24 591.7 609.16 626.62 644.08 661.54 678.99 696.45 713.91 731.37">GGCCGGTTTGTAGCACC<tspan class="m">T</tspan>ATGACAATGACATGGGAACGAG</text>
</g>
<g class="k">
<text y="553.8"><tspan x="742.55">- </tspan><tspan x="752.9" class="r">Reference</tspan></text>
<text y="584.3"><tspan x="742.55">- </tspan><tspan x="753.2">53.88%</tspan><tspan x="823.2" class="r">(53878 reads)</tspan></text>
<text y="605.33"><tspan x="742.55">- </tspan><tspan x="753.2">19.87%</tspan><tspan x="823.2" class="r">(19869 reads)</tspan></text>
<text y="626.37"><tspan x="742.55">- </tspan><tspan x="753.2">9.49%</tspan><tspan x="823.2" class="r">(9491 reads)</tspan></text>
<text y="647.4"><tspan x="742.55">- </tspan><tspan x="753.2">5.52%</tspan><tspan x="823.2" class="r">(5519 reads)</tspan></text>
<text y="668.43"><tspan x="742.55">- </tspan><tspan x="753.2">3.86%</tspan><tspan x="823.2" class="r">(3856 reads)</tspan></text>
<text y="689.47"><tspan x="742.55">- </tspan><tspan x="753.2">1.84%</tspan><tspan x="823.2" class="r">(1840 reads)</tspan></text>
<text y="710.5"><tspan x="742.55">- </tspan><tspan x="753.2">1.00%</tspan><tspan x="823.2" class="r">(1004 reads)</tspan></text>
<text y="731.53"><tspan x="742.55">- </tspan><tspan x="753.2">0.70%</tspan><tspan x="823.2" class="r">(699 reads)</tspan></text>
<text y="752.57"><tspan x="742.55">- </tspan><tspan x="753.2">0.36%</tspan><tspan x="823.2" class="r">(360 reads)</tspan></text>
<text y="773.6"><tspan x="742.55">- </tspan><tspan x="753.2">0.31%</tspan><tspan x="823.2" class="r">(305 reads)</tspan></text>
<text y="794.63"><tspan x="742.55">- </tspan><tspan x="753.2">0.29%</tspan><tspan x="823.2" class="r">(288 reads)</tspan></text>
<text y="815.67"><tspan x="742.55">- </tspan><tspan x="753.2">0.26%</tspan><tspan x="823.2" class="r">(259 reads)</tspan></text>
</g>
<rect x="215" y="534.9" width="402" height="289.4" fill="none" stroke="#0a0a0a" stroke-width="1.7"/>
<text x="24.2" y="854.8" font-size="22" font-style="italic">OsOD</text>
<text transform="translate(328.1 872.1) scale(1.07 1)" font-size="17" class="w">20-nt target sequence</text>
<text x="220.6" y="896.4" font-size="17.3" class="w">1</text>
<text x="406.8" y="896.4" font-size="17.3" class="w">10</text>
<text x="615.8" y="896.4" font-size="17.3" text-anchor="end" class="w">20</text>
<g shape-rendering="crispEdges">
<rect x="45.3" y="904" width="15.96" height="19.8" fill="#0c72ba"/>
<rect x="61.26" y="904" width="17.46" height="19.8" fill="#0cab3c"/>
<rect x="78.72" y="904" width="17.46" height="19.8" fill="#000000"/>
<rect x="96.19" y="904" width="17.46" height="19.8" fill="#c90f28"/>
<rect x="113.65" y="904" width="17.46" height="19.8" fill="#0cab3c"/>
<rect x="131.11" y="904" width="17.46" height="19.8" fill="#000000"/>
<rect x="148.57" y="904" width="17.46" height="19.8" fill="#c90f28"/>
<rect x="166.04" y="904" width="17.46" height="19.8" fill="#0cab3c"/>
<rect x="183.5" y="904" width="17.46" height="19.8" fill="#000000"/>
<rect x="200.96" y="904" width="17.46" height="19.8" fill="#0c72ba"/>
<rect x="218.43" y="904" width="17.46" height="19.8" fill="#0cab3c"/>
<rect x="235.89" y="904" width="17.46" height="19.8" fill="#0c72ba"/>
<rect x="253.35" y="904" width="17.46" height="19.8" fill="#0cab3c"/>
<rect x="270.81" y="904" width="17.46" height="19.8" fill="#0c72ba"/>
<rect x="288.27" y="904" width="17.46" height="19.8" fill="#0cab3c"/>
<rect x="305.74" y="904" width="17.46" height="19.8" fill="#0c72ba"/>
<rect x="323.2" y="904" width="17.46" height="19.8" fill="#0cab3c"/>
<rect x="340.66" y="904" width="17.46" height="19.8" fill="#0c72ba"/>
<rect x="358.12" y="904" width="17.46" height="19.8" fill="#0cab3c"/>
<rect x="375.59" y="904" width="17.46" height="19.8" fill="#0c72ba"/>
<rect x="393.05" y="904" width="17.46" height="19.8" fill="#c90f28"/>
<rect x="410.51" y="904" width="17.46" height="19.8" fill="#0cab3c"/>
<rect x="427.97" y="904" width="17.46" height="19.8" fill="#000000"/>
<rect x="445.44" y="904" width="17.46" height="19.8" fill="#c90f28"/>
<rect x="462.9" y="904" width="17.46" height="19.8" fill="#0cab3c"/>
<rect x="480.36" y="904" width="34.92" height="19.8" fill="#0c72ba"/>
<rect x="515.29" y="904" width="17.46" height="19.8" fill="#c90f28"/>
<rect x="532.75" y="904" width="17.46" height="19.8" fill="#0c72ba"/>
<rect x="550.21" y="904" width="17.46" height="19.8" fill="#c90f28"/>
<rect x="567.67" y="904" width="52.39" height="19.8" fill="#000000"/>
<rect x="620.06" y="904" width="17.46" height="19.8" fill="#0cab3c"/>
<rect x="637.52" y="904" width="17.46" height="19.8" fill="#0c72ba"/>
<rect x="654.99" y="904" width="17.46" height="19.8" fill="#c90f28"/>
<rect x="672.45" y="904" width="17.46" height="19.8" fill="#0cab3c"/>
<rect x="689.91" y="904" width="34.92" height="19.8" fill="#c90f28"/>
<rect x="724.84" y="904" width="17.46" height="19.8" fill="#000000"/>
<rect x="45.3" y="933.3" width="15.96" height="442.5" fill="#0c72ba"/>
<rect x="61.26" y="933.3" width="17.46" height="442.5" fill="#0cab3c"/>
<rect x="78.72" y="933.3" width="17.46" height="442.5" fill="#000000"/>
<rect x="96.19" y="933.3" width="17.46" height="442.5" fill="#c90f28"/>
<rect x="113.65" y="933.3" width="17.46" height="442.5" fill="#0cab3c"/>
<rect x="131.11" y="933.3" width="17.46" height="442.5" fill="#000000"/>
<rect x="148.57" y="933.3" width="17.46" height="442.5" fill="#c90f28"/>
<rect x="166.04" y="933.3" width="17.46" height="442.5" fill="#0cab3c"/>
<rect x="183.5" y="933.3" width="17.46" height="442.5" fill="#000000"/>
<rect x="200.96" y="933.3" width="17.46" height="442.5" fill="#0c72ba"/>
<rect x="218.43" y="933.3" width="17.46" height="442.5" fill="#0cab3c"/>
<rect x="235.89" y="933.3" width="17.46" height="442.5" fill="#0c72ba"/>
<rect x="253.35" y="933.3" width="17.46" height="442.5" fill="#0cab3c"/>
<rect x="270.81" y="933.3" width="17.46" height="84.29" fill="#0c72ba"/>
<rect x="270.81" y="1017.59" width="17.46" height="42.14" fill="#c90f28"/>
<rect x="270.81" y="1059.73" width="17.46" height="63.21" fill="#0c72ba"/>
<rect x="270.81" y="1122.94" width="17.46" height="42.14" fill="#c90f28"/>
<rect x="270.81" y="1165.09" width="17.46" height="42.14" fill="#0c72ba"/>
<rect x="270.81" y="1207.23" width="17.46" height="21.07" fill="#c90f28"/>
<rect x="270.81" y="1228.3" width="17.46" height="21.07" fill="#0c72ba"/>
<rect x="270.81" y="1249.37" width="17.46" height="21.07" fill="#c90f28"/>
<rect x="270.81" y="1270.44" width="17.46" height="21.07" fill="#0c72ba"/>
<rect x="270.81" y="1291.51" width="17.46" height="42.14" fill="#c90f28"/>
<rect x="270.81" y="1333.66" width="17.46" height="21.07" fill="#0c72ba"/>
<rect x="270.81" y="1354.73" width="17.46" height="21.07" fill="#c90f28"/>
<rect x="288.27" y="933.3" width="17.46" height="189.64" fill="#0cab3c"/>
<rect x="288.27" y="1122.94" width="17.46" height="42.14" fill="#000000"/>
<rect x="288.27" y="1165.09" width="17.46" height="63.21" fill="#0cab3c"/>
<rect x="288.27" y="1228.3" width="17.46" height="42.14" fill="#000000"/>
<rect x="288.27" y="1270.44" width="17.46" height="21.07" fill="#0cab3c"/>
<rect x="288.27" y="1291.51" width="17.46" height="21.07" fill="#000000"/>
<rect x="288.27" y="1312.59" width="17.46" height="63.21" fill="#0cab3c"/>
<rect x="305.74" y="933.3" width="17.46" height="21.07" fill="#0c72ba"/>
<rect x="305.74" y="954.37" width="17.46" height="105.36" fill="#c90f28"/>
<rect x="305.74" y="1059.73" width="17.46" height="21.07" fill="#0c72ba"/>
<rect x="305.74" y="1080.8" width="17.46" height="84.29" fill="#c90f28"/>
<rect x="305.74" y="1165.09" width="17.46" height="21.07" fill="#0c72ba"/>
<rect x="305.74" y="1186.16" width="17.46" height="126.43" fill="#c90f28"/>
<rect x="305.74" y="1312.59" width="17.46" height="42.14" fill="#0c72ba"/>
<rect x="305.74" y="1354.73" width="17.46" height="21.07" fill="#c90f28"/>
<rect x="323.2" y="933.3" width="17.46" height="168.57" fill="#0cab3c"/>
<rect x="323.2" y="1101.87" width="17.46" height="42.14" fill="#000000"/>
<rect x="323.2" y="1144.01" width="17.46" height="42.14" fill="#0cab3c"/>
<rect x="323.2" y="1186.16" width="17.46" height="21.07" fill="#000000"/>
<rect x="323.2" y="1207.23" width="17.46" height="42.14" fill="#0cab3c"/>
<rect x="323.2" y="1249.37" width="17.46" height="42.14" fill="#000000"/>
<rect x="323.2" y="1291.51" width="17.46" height="84.29" fill="#0cab3c"/>
<rect x="340.66" y="933.3" width="17.46" height="21.07" fill="#0c72ba"/>
<rect x="340.66" y="954.37" width="17.46" height="42.14" fill="#c90f28"/>
<rect x="340.66" y="996.51" width="17.46" height="21.07" fill="#0c72ba"/>
<rect x="340.66" y="1017.59" width="17.46" height="63.21" fill="#c90f28"/>
<rect x="340.66" y="1080.8" width="17.46" height="21.07" fill="#0c72ba"/>
<rect x="340.66" y="1101.87" width="17.46" height="105.36" fill="#c90f28"/>
<rect x="340.66" y="1207.23" width="17.46" height="21.07" fill="#0c72ba"/>
<rect x="340.66" y="1228.3" width="17.46" height="84.29" fill="#c90f28"/>
<rect x="340.66" y="1312.59" width="17.46" height="63.21" fill="#0c72ba"/>
<rect x="358.12" y="933.3" width="17.46" height="337.14" fill="#0cab3c"/>
<rect x="358.12" y="1270.44" width="17.46" height="21.07" fill="#000000"/>
<rect x="358.12" y="1291.51" width="17.46" height="84.29" fill="#0cab3c"/>
<rect x="375.59" y="933.3" width="17.46" height="42.14" fill="#0c72ba"/>
<rect x="375.59" y="975.44" width="17.46" height="21.07" fill="#c90f28"/>
<rect x="375.59" y="996.51" width="17.46" height="21.07" fill="#0c72ba"/>
<rect x="375.59" y="1017.59" width="17.46" height="21.07" fill="#c90f28"/>
<rect x="375.59" y="1038.66" width="17.46" height="21.07" fill="#0c72ba"/>
<rect x="375.59" y="1059.73" width="17.46" height="42.14" fill="#c90f28"/>
<rect x="375.59" y="1101.87" width="17.46" height="21.07" fill="#0c72ba"/>
<rect x="375.59" y="1122.94" width="17.46" height="21.07" fill="#c90f28"/>
<rect x="375.59" y="1144.01" width="17.46" height="42.14" fill="#0c72ba"/>
<rect x="375.59" y="1186.16" width="17.46" height="63.21" fill="#c90f28"/>
<rect x="375.59" y="1249.37" width="17.46" height="21.07" fill="#0c72ba"/>
<rect x="375.59" y="1270.44" width="17.46" height="42.14" fill="#c90f28"/>
<rect x="375.59" y="1312.59" width="17.46" height="21.07" fill="#0c72ba"/>
<rect x="375.59" y="1333.66" width="17.46" height="21.07" fill="#c90f28"/>
<rect x="375.59" y="1354.73" width="17.46" height="21.07" fill="#0c72ba"/>
<rect x="393.05" y="933.3" width="17.46" height="442.5" fill="#c90f28"/>
<rect x="410.51" y="933.3" width="17.46" height="442.5" fill="#0cab3c"/>
<rect x="427.97" y="933.3" width="17.46" height="442.5" fill="#000000"/>
<rect x="445.44" y="933.3" width="17.46" height="442.5" fill="#c90f28"/>
<rect x="462.9" y="933.3" width="17.46" height="442.5" fill="#0cab3c"/>
<rect x="480.36" y="933.3" width="34.92" height="442.5" fill="#0c72ba"/>
<rect x="515.29" y="933.3" width="17.46" height="442.5" fill="#c90f28"/>
<rect x="532.75" y="933.3" width="17.46" height="442.5" fill="#0c72ba"/>
<rect x="550.21" y="933.3" width="17.46" height="442.5" fill="#c90f28"/>
<rect x="567.67" y="933.3" width="52.39" height="442.5" fill="#000000"/>
<rect x="620.06" y="933.3" width="17.46" height="442.5" fill="#0cab3c"/>
<rect x="637.52" y="933.3" width="17.46" height="442.5" fill="#0c72ba"/>
<rect x="654.99" y="933.3" width="17.46" height="442.5" fill="#c90f28"/>
<rect x="672.45" y="933.3" width="17.46" height="442.5" fill="#0cab3c"/>
<rect x="689.91" y="933.3" width="34.92" height="442.5" fill="#c90f28"/>
<rect x="724.84" y="933.3" width="17.46" height="442.5" fill="#000000"/>
</g>
<g class="s">
<text y="920.1" x="53.83 71.29 88.76 106.22 123.68 141.14 158.61 176.07 193.53 210.99 228.46 245.92 263.38 280.84 298.31 315.77 333.23 350.69 368.16 385.62 403.08 420.54 438.01 455.47 472.93 490.39 507.86 525.32 542.78 560.24 577.71 595.17 612.63 630.09 647.56 665.02 682.48 699.94 717.41 734.87">CAGTAGTAGCACACACACACTAGTACCTCTGGGACTATTG</text>
<text y="950.3" x="53.83 71.29 88.76 106.22 123.68 141.14 158.61 176.07 193.53 210.99 228.46 245.92 263.38 280.84 298.31 315.77 333.23 350.69 368.16 385.62 403.08 420.54 438.01 455.47 472.93 490.39 507.86 525.32 542.78 560.24 577.71 595.17 612.63 630.09 647.56 665.02 682.48 699.94 717.41 734.87">CAGTAGTAGCACACACACACTAGTACCTCTGGGACTATTG</text>
<text y="971.34" x="53.83 71.29 88.76 106.22 123.68 141.14 158.61 176.07 193.53 210.99 228.46 245.92 263.38 280.84 298.31 315.77 333.23 350.69 368.16 385.62 403.08 420.54 438.01 455.47 472.93 490.39 507.86 525.32 542.78 560.24 577.71 595.17 612.63 630.09 647.56 665.02 682.48 699.94 717.41 734.87">CAGTAGTAGCACACA<tspan class="m">T</tspan>A<tspan class="m">T</tspan>ACTAGTACCTCTGGGACTATTG</text>
<text y="992.38" x="53.83 71.29 88.76 106.22 123.68 141.14 158.61 176.07 193.53 210.99 228.46 245.92 263.38 280.84 298.31 315.77 333.23 350.69 368.16 385.62 403.08 420.54 438.01 455.47 472.93 490.39 507.86 525.32 542.78 560.24 577.71 595.17 612.63 630.09 647.56 665.02 682.48 699.94 717.41 734.87">CAGTAGTAGCACACA<tspan class="m">T</tspan>A<tspan class="m">T</tspan>A<tspan class="m">T</tspan>TAGTACCTCTGGGACTATTG</text>
<text y="1013.42" x="53.83 71.29 88.76 106.22 123.68 141.14 158.61 176.07 193.53 210.99 228.46 245.92 263.38 280.84 298.31 315.77 333.23 350.69 368.16 385.62 403.08 420.54 438.01 455.47 472.93 490.39 507.86 525.32 542.78 560.24 577.71 595.17 612.63 630.09 647.56 665.02 682.48 699.94 717.41 734.87">CAGTAGTAGCACACA<tspan class="m">T</tspan>ACACTAGTACCTCTGGGACTATTG</text>
<text y="1034.47" x="53.83 71.29 88.76 106.22 123.68 141.14 158.61 176.07 193.53 210.99 228.46 245.92 263.38 280.84 298.31 315.77 333.23 350.69 368.16 385.62 403.08 420.54 438.01 455.47 472.93 490.39 507.86 525.32 542.78 560.24 577.71 595.17 612.63 630.09 647.56 665.02 682.48 699.94 717.41 734.87">CAGTAGTAGCACA<tspan class="m">T</tspan>A<tspan class="m">T</tspan>A<tspan class="m">T</tspan>A<tspan class="m">T</tspan>TAGTACCTCTGGGACTATTG</text>
<text y="1055.51" x="53.83 71.29 88.76 106.22 123.68 141.14 158.61 176.07 193.53 210.99 228.46 245.92 263.38 280.84 298.31 315.77 333.23 350.69 368.16 385.62 403.08 420.54 438.01 455.47 472.93 490.39 507.86 525.32 542.78 560.24 577.71 595.17 612.63 630.09 647.56 665.02 682.48 699.94 717.41 734.87">CAGTAGTAGCACA<tspan class="m">T</tspan>A<tspan class="m">T</tspan>A<tspan class="m">T</tspan>ACTAGTACCTCTGGGACTATTG</text>
<text y="1076.55" x="53.83 71.29 88.76 106.22 123.68 141.14 158.61 176.07 193.53 210.99 228.46 245.92 263.38 280.84 298.31 315.77 333.23 350.69 368.16 385.62 403.08 420.54 438.01 455.47 472.93 490.39 507.86 525.32 542.78 560.24 577.71 595.17 612.63 630.09 647.56 665.02 682.48 699.94 717.41 734.87">CAGTAGTAGCACACACA<tspan class="m">T</tspan>A<tspan class="m">T</tspan>TAGTACCTCTGGGACTATTG</text>
<text y="1097.59" x="53.83 71.29 88.76 106.22 123.68 141.14 158.61 176.07 193.53 210.99 228.46 245.92 263.38 280.84 298.31 315.77 333.23 350.69 368.16 385.62 403.08 420.54 438.01 455.47 472.93 490.39 507.86 525.32 542.78 560.24 577.71 595.17 612.63 630.09 647.56 665.02 682.48 699.94 717.41 734.87">CAGTAGTAGCACACA<tspan class="m">T</tspan>ACA<tspan class="m">T</tspan>TAGTACCTCTGGGACTATTG</text>
<text y="1118.63" x="53.83 71.29 88.76 106.22 123.68 141.14 158.61 176.07 193.53 210.99 228.46 245.92 263.38 280.84 298.31 315.77 333.23 350.69 368.16 385.62 403.08 420.54 438.01 455.47 472.93 490.39 507.86 525.32 542.78 560.24 577.71 595.17 612.63 630.09 647.56 665.02 682.48 699.94 717.41 734.87">CAGTAGTAGCACACA<tspan class="m">TGT</tspan>ACTAGTACCTCTGGGACTATTG</text>
<text y="1139.67" x="53.83 71.29 88.76 106.22 123.68 141.14 158.61 176.07 193.53 210.99 228.46 245.92 263.38 280.84 298.31 315.77 333.23 350.69 368.16 385.62 403.08 420.54 438.01 455.47 472.93 490.39 507.86 525.32 542.78 560.24 577.71 595.17 612.63 630.09 647.56 665.02 682.48 699.94 717.41 734.87">CAGTAGTAGCACA<tspan class="m">TGTGT</tspan>A<tspan class="m">T</tspan>TAGTACCTCTGGGACTATTG</text>
<text y="1160.71" x="53.83 71.29 88.76 106.22 123.68 141.14 158.61 176.07 193.53 210.99 228.46 245.92 263.38 280.84 298.31 315.77 333.23 350.69 368.16 385.62 403.08 420.54 438.01 455.47 472.93 490.39 507.86 525.32 542.78 560.24 577.71 595.17 612.63 630.09 647.56 665.02 682.48 699.94 717.41 734.87">CAGTAGTAGCACA<tspan class="m">TGT</tspan>A<tspan class="m">T</tspan>ACTAGTACCTCTGGGACTATTG</text>
<text y="1181.76" x="53.83 71.29 88.76 106.22 123.68 141.14 158.61 176.07 193.53 210.99 228.46 245.92 263.38 280.84 298.31 315.77 333.23 350.69 368.16 385.62 403.08 420.54 438.01 455.47 472.93 490.39 507.86 525.32 542.78 560.24 577.71 595.17 612.63 630.09 647.56 665.02 682.48 699.94 717.41 734.87">CAGTAGTAGCACACACA<tspan class="m">T</tspan>ACTAGTACCTCTGGGACTATTG</text>
<text y="1202.8" x="53.83 71.29 88.76 106.22 123.68 141.14 158.61 176.07 193.53 210.99 228.46 245.92 263.38 280.84 298.31 315.77 333.23 350.69 368.16 385.62 403.08 420.54 438.01 455.47 472.93 490.39 507.86 525.32 542.78 560.24 577.71 595.17 612.63 630.09 647.56 665.02 682.48 699.94 717.41 734.87">CAGTAGTAGCACACA<tspan class="m">TGT</tspan>A<tspan class="m">T</tspan>TAGTACCTCTGGGACTATTG</text>
<text y="1223.84" x="53.83 71.29 88.76 106.22 123.68 141.14 158.61 176.07 193.53 210.99 228.46 245.92 263.38 280.84 298.31 315.77 333.23 350.69 368.16 385.62 403.08 420.54 438.01 455.47 472.93 490.39 507.86 525.32 542.78 560.24 577.71 595.17 612.63 630.09 647.56 665.02 682.48 699.94 717.41 734.87">CAGTAGTAGCACA<tspan class="m">T</tspan>A<tspan class="m">T</tspan>ACA<tspan class="m">T</tspan>TAGTACCTCTGGGACTATTG</text>
<text y="1244.88" x="53.83 71.29 88.76 106.22 123.68 141.14 158.61 176.07 193.53 210.99 228.46 245.92 263.38 280.84 298.31 315.77 333.23 350.69 368.16 385.62 403.08 420.54 438.01 455.47 472.93 490.39 507.86 525.32 542.78 560.24 577.71 595.17 612.63 630.09 647.56 665.02 682.48 699.94 717.41 734.87">CAGTAGTAGCACAC<tspan class="m">GT</tspan>A<tspan class="m">T</tspan>A<tspan class="m">T</tspan>TAGTACCTCTGGGACTATTG</text>
<text y="1265.92" x="53.83 71.29 88.76 106.22 123.68 141.14 158.61 176.07 193.53 210.99 228.46 245.92 263.38 280.84 298.31 315.77 333.23 350.69 368.16 385.62 403.08 420.54 438.01 455.47 472.93 490.39 507.86 525.32 542.78 560.24 577.71 595.17 612.63 630.09 647.56 665.02 682.48 699.94 717.41 734.87">CAGTAGTAGCACA<tspan class="m">TGTGT</tspan>ACTAGTACCTCTGGGACTATTG</text>
<text y="1286.96" x="53.83 71.29 88.76 106.22 123.68 141.14 158.61 176.07 193.53 210.99 228.46 245.92 263.38 280.84 298.31 315.77 333.23 350.69 368.16 385.62 403.08 420.54 438.01 455.47 472.93 490.39 507.86 525.32 542.78 560.24 577.71 595.17 612.63 630.09 647.56 665.02 682.48 699.94 717.41 734.87">CAGTAGTAGCACACA<tspan class="m">TGTGT</tspan>TAGTACCTCTGGGACTATTG</text>
<text y="1308" x="53.83 71.29 88.76 106.22 123.68 141.14 158.61 176.07 193.53 210.99 228.46 245.92 263.38 280.84 298.31 315.77 333.23 350.69 368.16 385.62 403.08 420.54 438.01 455.47 472.93 490.39 507.86 525.32 542.78 560.24 577.71 595.17 612.63 630.09 647.56 665.02 682.48 699.94 717.41 734.87">CAGTAGTAGCACA<tspan class="m">TGT</tspan>A<tspan class="m">T</tspan>A<tspan class="m">T</tspan>TAGTACCTCTGGGACTATTG</text>
<text y="1329.05" x="53.83 71.29 88.76 106.22 123.68 141.14 158.61 176.07 193.53 210.99 228.46 245.92 263.38 280.84 298.31 315.77 333.23 350.69 368.16 385.62 403.08 420.54 438.01 455.47 472.93 490.39 507.86 525.32 542.78 560.24 577.71 595.17 612.63 630.09 647.56 665.02 682.48 699.94 717.41 734.87">CAGTAGTAGCACA<tspan class="m">T</tspan>ACACACTAGTACCTCTGGGACTATTG</text>
<text y="1350.09" x="53.83 71.29 88.76 106.22 123.68 141.14 158.61 176.07 193.53 210.99 228.46 245.92 263.38 280.84 298.31 315.77 333.23 350.69 368.16 385.62 403.08 420.54 438.01 455.47 472.93 490.39 507.86 525.32 542.78 560.24 577.71 595.17 612.63 630.09 647.56 665.02 682.48 699.94 717.41 734.87">CAGTAGTAGCACACACACA<tspan class="m">T</tspan>TAGTACCTCTGGGACTATTG</text>
<text y="1371.13" x="53.83 71.29 88.76 106.22 123.68 141.14 158.61 176.07 193.53 210.99 228.46 245.92 263.38 280.84 298.31 315.77 333.23 350.69 368.16 385.62 403.08 420.54 438.01 455.47 472.93 490.39 507.86 525.32 542.78 560.24 577.71 595.17 612.63 630.09 647.56 665.02 682.48 699.94 717.41 734.87">CAGTAGTAGCACA<tspan class="m">T</tspan>A<tspan class="m">T</tspan>ACACTAGTACCTCTGGGACTATTG</text>
</g>
<g class="k">
<text y="920.4"><tspan x="745.95">- </tspan><tspan x="756.8" class="r">Reference</tspan></text>
<text y="949.9"><tspan x="745.95">- </tspan><tspan x="756.8">65.84%</tspan><tspan x="827.3" class="r">(13893 reads)</tspan></text>
<text y="970.97"><tspan x="745.95">- </tspan><tspan x="756.8">9.37%</tspan><tspan x="827.3" class="r">(1978 reads)</tspan></text>
<text y="992.04"><tspan x="745.95">- </tspan><tspan x="756.8">5.04%</tspan><tspan x="827.3" class="r">(1064 reads)</tspan></text>
<text y="1013.11"><tspan x="745.95">- </tspan><tspan x="756.8">3.06%</tspan><tspan x="827.3" class="r">(645 reads)</tspan></text>
<text y="1034.19"><tspan x="745.95">- </tspan><tspan x="756.8">2.86%</tspan><tspan x="827.3" class="r">(604 reads)</tspan></text>
<text y="1055.26"><tspan x="745.95">- </tspan><tspan x="756.8">1.94%</tspan><tspan x="827.3" class="r">(410 reads)</tspan></text>
<text y="1076.33"><tspan x="745.95">- </tspan><tspan x="756.8">1.74%</tspan><tspan x="827.3" class="r">(368 reads)</tspan></text>
<text y="1097.4"><tspan x="745.95">- </tspan><tspan x="756.8">0.79%</tspan><tspan x="827.3" class="r">(167 reads)</tspan></text>
<text y="1118.47"><tspan x="745.95">- </tspan><tspan x="756.8">0.76%</tspan><tspan x="827.3" class="r">(161 reads)</tspan></text>
<text y="1139.54"><tspan x="745.95">- </tspan><tspan x="756.8">0.53%</tspan><tspan x="827.3" class="r">(112 reads)</tspan></text>
<text y="1160.61"><tspan x="745.95">- </tspan><tspan x="756.8">0.43%</tspan><tspan x="827.3" class="r">(91 reads)</tspan></text>
<text y="1181.69"><tspan x="745.95">- </tspan><tspan x="756.8">0.37%</tspan><tspan x="827.3" class="r">(79 reads)</tspan></text>
<text y="1202.76"><tspan x="745.95">- </tspan><tspan x="756.8">0.36%</tspan><tspan x="827.3" class="r">(76 reads)</tspan></text>
<text y="1223.83"><tspan x="745.95">- </tspan><tspan x="756.8">0.32%</tspan><tspan x="827.3" class="r">(68 reads)</tspan></text>
<text y="1244.9"><tspan x="745.95">- </tspan><tspan x="756.8">0.29%</tspan><tspan x="827.3" class="r">(62 reads)</tspan></text>
<text y="1265.97"><tspan x="745.95">- </tspan><tspan x="756.8">0.27%</tspan><tspan x="827.3" class="r">(58 reads)</tspan></text>
<text y="1287.04"><tspan x="745.95">- </tspan><tspan x="756.8">0.27%</tspan><tspan x="827.3" class="r">(56 reads)</tspan></text>
<text y="1308.11"><tspan x="745.95">- </tspan><tspan x="756.8">0.26%</tspan><tspan x="827.3" class="r">(54 reads)</tspan></text>
<text y="1329.19"><tspan x="745.95">- </tspan><tspan x="756.8">0.24%</tspan><tspan x="827.3" class="r">(50 reads)</tspan></text>
<text y="1350.26"><tspan x="745.95">- </tspan><tspan x="756.8">0.23%</tspan><tspan x="827.3" class="r">(49 reads)</tspan></text>
<text y="1371.33"><tspan x="745.95">- </tspan><tspan x="756.8">0.22%</tspan><tspan x="827.3" class="r">(47 reads)</tspan></text>
</g>
<rect x="218.4" y="901" width="402" height="477.6" fill="none" stroke="#0a0a0a" stroke-width="1.7"/>
<text x="953.6" y="529.6" font-size="21.6" font-style="italic">OsEV</text>
<text transform="translate(1253.8 540.9) scale(1.07 1)" font-size="17" class="w">20-nt target sequence</text>
<text x="1149.3" y="565.1" font-size="17.3" class="w">1</text>
<text x="1332.9" y="565.1" font-size="17.3" class="w">10</text>
<text x="1545.3" y="565.1" font-size="17.3" text-anchor="end" class="w">20</text>
<g shape-rendering="crispEdges">
<rect x="970.7" y="572.4" width="15.99" height="19.5" fill="#000000"/>
<rect x="986.69" y="572.4" width="17.49" height="19.5" fill="#0c72ba"/>
<rect x="1004.18" y="572.4" width="17.49" height="19.5" fill="#0cab3c"/>
<rect x="1021.67" y="572.4" width="17.49" height="19.5" fill="#000000"/>
<rect x="1039.16" y="572.4" width="17.49" height="19.5" fill="#c90f28"/>
<rect x="1056.65" y="572.4" width="17.49" height="19.5" fill="#0cab3c"/>
<rect x="1074.14" y="572.4" width="17.49" height="19.5" fill="#000000"/>
<rect x="1091.63" y="572.4" width="17.49" height="19.5" fill="#c90f28"/>
<rect x="1109.12" y="572.4" width="17.49" height="19.5" fill="#0cab3c"/>
<rect x="1126.61" y="572.4" width="17.49" height="19.5" fill="#000000"/>
<rect x="1144.1" y="572.4" width="17.49" height="19.5" fill="#0c72ba"/>
<rect x="1161.59" y="572.4" width="17.49" height="19.5" fill="#0cab3c"/>
<rect x="1179.08" y="572.4" width="17.49" height="19.5" fill="#0c72ba"/>
<rect x="1196.57" y="572.4" width="17.49" height="19.5" fill="#0cab3c"/>
<rect x="1214.06" y="572.4" width="17.49" height="19.5" fill="#0c72ba"/>
<rect x="1231.55" y="572.4" width="17.49" height="19.5" fill="#0cab3c"/>
<rect x="1249.04" y="572.4" width="17.49" height="19.5" fill="#0c72ba"/>
<rect x="1266.53" y="572.4" width="17.49" height="19.5" fill="#0cab3c"/>
<rect x="1284.02" y="572.4" width="17.49" height="19.5" fill="#0c72ba"/>
<rect x="1301.51" y="572.4" width="17.49" height="19.5" fill="#0cab3c"/>
<rect x="1319" y="572.4" width="17.49" height="19.5" fill="#0c72ba"/>
<rect x="1336.49" y="572.4" width="17.49" height="19.5" fill="#c90f28"/>
<rect x="1353.98" y="572.4" width="17.49" height="19.5" fill="#0cab3c"/>
<rect x="1371.47" y="572.4" width="17.49" height="19.5" fill="#000000"/>
<rect x="1388.96" y="572.4" width="17.49" height="19.5" fill="#c90f28"/>
<rect x="1406.45" y="572.4" width="17.49" height="19.5" fill="#0cab3c"/>
<rect x="1423.94" y="572.4" width="34.98" height="19.5" fill="#0c72ba"/>
<rect x="1458.92" y="572.4" width="17.49" height="19.5" fill="#c90f28"/>
<rect x="1476.41" y="572.4" width="17.49" height="19.5" fill="#0c72ba"/>
<rect x="1493.9" y="572.4" width="17.49" height="19.5" fill="#c90f28"/>
<rect x="1511.39" y="572.4" width="52.47" height="19.5" fill="#000000"/>
<rect x="1563.86" y="572.4" width="17.49" height="19.5" fill="#0cab3c"/>
<rect x="1581.35" y="572.4" width="17.49" height="19.5" fill="#0c72ba"/>
<rect x="1598.84" y="572.4" width="17.49" height="19.5" fill="#c90f28"/>
<rect x="1616.33" y="572.4" width="17.49" height="19.5" fill="#0cab3c"/>
<rect x="1633.82" y="572.4" width="34.98" height="19.5" fill="#c90f28"/>
<rect x="970.7" y="601.8" width="15.99" height="674.8" fill="#000000"/>
<rect x="986.69" y="601.8" width="17.49" height="674.8" fill="#0c72ba"/>
<rect x="1004.18" y="601.8" width="17.49" height="674.8" fill="#0cab3c"/>
<rect x="1021.67" y="601.8" width="17.49" height="674.8" fill="#000000"/>
<rect x="1039.16" y="601.8" width="17.49" height="674.8" fill="#c90f28"/>
<rect x="1056.65" y="601.8" width="17.49" height="674.8" fill="#0cab3c"/>
<rect x="1074.14" y="601.8" width="17.49" height="674.8" fill="#000000"/>
<rect x="1091.63" y="601.8" width="17.49" height="674.8" fill="#c90f28"/>
<rect x="1109.12" y="601.8" width="17.49" height="674.8" fill="#0cab3c"/>
<rect x="1126.61" y="601.8" width="17.49" height="674.8" fill="#000000"/>
<rect x="1144.1" y="601.8" width="17.49" height="295.22" fill="#0c72ba"/>
<rect x="1144.1" y="897.02" width="17.49" height="42.18" fill="#c90f28"/>
<rect x="1144.1" y="939.2" width="17.49" height="295.23" fill="#0c72ba"/>
<rect x="1144.1" y="1234.42" width="17.49" height="42.17" fill="#c90f28"/>
<rect x="1161.59" y="601.8" width="17.49" height="674.8" fill="#0cab3c"/>
<rect x="1179.08" y="601.8" width="17.49" height="21.09" fill="#0c72ba"/>
<rect x="1179.08" y="622.89" width="17.49" height="21.09" fill="#c90f28"/>
<rect x="1179.08" y="643.97" width="17.49" height="21.09" fill="#0c72ba"/>
<rect x="1179.08" y="665.06" width="17.49" height="21.09" fill="#c90f28"/>
<rect x="1179.08" y="686.15" width="17.49" height="42.17" fill="#0c72ba"/>
<rect x="1179.08" y="728.32" width="17.49" height="84.35" fill="#c90f28"/>
<rect x="1179.08" y="812.67" width="17.49" height="21.09" fill="#0c72ba"/>
<rect x="1179.08" y="833.76" width="17.49" height="42.18" fill="#c90f28"/>
<rect x="1179.08" y="875.94" width="17.49" height="21.09" fill="#0c72ba"/>
<rect x="1179.08" y="897.02" width="17.49" height="42.18" fill="#c90f28"/>
<rect x="1179.08" y="939.2" width="17.49" height="21.09" fill="#0c72ba"/>
<rect x="1179.08" y="960.29" width="17.49" height="126.53" fill="#c90f28"/>
<rect x="1179.08" y="1086.81" width="17.49" height="42.17" fill="#0c72ba"/>
<rect x="1179.08" y="1128.99" width="17.49" height="21.09" fill="#c90f28"/>
<rect x="1179.08" y="1150.07" width="17.49" height="42.18" fill="#0c72ba"/>
<rect x="1179.08" y="1192.25" width="17.49" height="21.09" fill="#c90f28"/>
<rect x="1179.08" y="1213.34" width="17.49" height="21.09" fill="#0c72ba"/>
<rect x="1179.08" y="1234.42" width="17.49" height="21.09" fill="#c90f28"/>
<rect x="1179.08" y="1255.51" width="17.49" height="21.09" fill="#0c72ba"/>
<rect x="1196.57" y="601.8" width="17.49" height="168.7" fill="#0cab3c"/>
<rect x="1196.57" y="770.5" width="17.49" height="21.09" fill="#000000"/>
<rect x="1196.57" y="791.59" width="17.49" height="42.17" fill="#0cab3c"/>
<rect x="1196.57" y="833.76" width="17.49" height="21.09" fill="#000000"/>
<rect x="1196.57" y="854.85" width="17.49" height="105.44" fill="#0cab3c"/>
<rect x="1196.57" y="960.29" width="17.49" height="21.09" fill="#000000"/>
<rect x="1196.57" y="981.38" width="17.49" height="42.17" fill="#0cab3c"/>
<rect x="1196.57" y="1023.55" width="17.49" height="21.09" fill="#000000"/>
<rect x="1196.57" y="1044.64" width="17.49" height="147.61" fill="#0cab3c"/>
<rect x="1196.57" y="1192.25" width="17.49" height="21.09" fill="#000000"/>
<rect x="1196.57" y="1213.34" width="17.49" height="63.26" fill="#0cab3c"/>
<rect x="1214.06" y="601.8" width="17.49" height="21.09" fill="#0c72ba"/>
<rect x="1214.06" y="622.89" width="17.49" height="253.05" fill="#c90f28"/>
<rect x="1214.06" y="875.94" width="17.49" height="21.09" fill="#0c72ba"/>
<rect x="1214.06" y="897.02" width="17.49" height="147.61" fill="#c90f28"/>
<rect x="1214.06" y="1044.64" width="17.49" height="21.09" fill="#0c72ba"/>
<rect x="1214.06" y="1065.72" width="17.49" height="21.09" fill="#c90f28"/>
<rect x="1214.06" y="1086.81" width="17.49" height="21.09" fill="#0c72ba"/>
<rect x="1214.06" y="1107.9" width="17.49" height="63.26" fill="#c90f28"/>
<rect x="1214.06" y="1171.16" width="17.49" height="21.09" fill="#0c72ba"/>
<rect x="1214.06" y="1192.25" width="17.49" height="84.35" fill="#c90f28"/>
<rect x="1231.55" y="601.8" width="17.49" height="126.52" fill="#0cab3c"/>
<rect x="1231.55" y="728.32" width="17.49" height="21.09" fill="#000000"/>
<rect x="1231.55" y="749.41" width="17.49" height="21.09" fill="#0cab3c"/>
<rect x="1231.55" y="770.5" width="17.49" height="21.09" fill="#000000"/>
<rect x="1231.55" y="791.59" width="17.49" height="42.17" fill="#0cab3c"/>
<rect x="1231.55" y="833.76" width="17.49" height="42.18" fill="#000000"/>
<rect x="1231.55" y="875.94" width="17.49" height="42.17" fill="#0cab3c"/>
<rect x="1231.55" y="918.11" width="17.49" height="42.17" fill="#000000"/>
<rect x="1231.55" y="960.29" width="17.49" height="21.09" fill="#0cab3c"/>
<rect x="1231.55" y="981.38" width="17.49" height="21.09" fill="#000000"/>
<rect x="1231.55" y="1002.46" width="17.49" height="105.44" fill="#0cab3c"/>
<rect x="1231.55" y="1107.9" width="17.49" height="63.26" fill="#000000"/>
<rect x="1231.55" y="1171.16" width="17.49" height="105.44" fill="#0cab3c"/>
<rect x="1249.04" y="601.8" width="17.49" height="21.09" fill="#0c72ba"/>
<rect x="1249.04" y="622.89" width="17.49" height="548.27" fill="#c90f28"/>
<rect x="1249.04" y="1171.16" width="17.49" height="21.09" fill="#0c72ba"/>
<rect x="1249.04" y="1192.25" width="17.49" height="84.35" fill="#c90f28"/>
<rect x="1266.53" y="601.8" width="17.49" height="168.7" fill="#0cab3c"/>
<rect x="1266.53" y="770.5" width="17.49" height="21.09" fill="#000000"/>
<rect x="1266.53" y="791.59" width="17.49" height="189.79" fill="#0cab3c"/>
<rect x="1266.53" y="981.38" width="17.49" height="42.17" fill="#000000"/>
<rect x="1266.53" y="1023.55" width="17.49" height="42.17" fill="#0cab3c"/>
<rect x="1266.53" y="1065.72" width="17.49" height="21.09" fill="#000000"/>
<rect x="1266.53" y="1086.81" width="17.49" height="105.44" fill="#0cab3c"/>
<rect x="1266.53" y="1192.25" width="17.49" height="42.17" fill="#000000"/>
<rect x="1266.53" y="1234.42" width="17.49" height="42.17" fill="#0cab3c"/>
<rect x="1284.02" y="601.8" width="17.49" height="21.09" fill="#0c72ba"/>
<rect x="1284.02" y="622.89" width="17.49" height="21.09" fill="#c90f28"/>
<rect x="1284.02" y="643.97" width="17.49" height="42.18" fill="#0c72ba"/>
<rect x="1284.02" y="686.15" width="17.49" height="105.44" fill="#c90f28"/>
<rect x="1284.02" y="791.59" width="17.49" height="42.17" fill="#0c72ba"/>
<rect x="1284.02" y="833.76" width="17.49" height="253.05" fill="#c90f28"/>
<rect x="1284.02" y="1086.81" width="17.49" height="105.44" fill="#0c72ba"/>
<rect x="1284.02" y="1192.25" width="17.49" height="63.26" fill="#c90f28"/>
<rect x="1284.02" y="1255.51" width="17.49" height="21.09" fill="#0c72ba"/>
<rect x="1301.51" y="601.8" width="17.49" height="674.8" fill="#0cab3c"/>
<rect x="1319" y="601.8" width="17.49" height="21.09" fill="#0c72ba"/>
<rect x="1319" y="622.89" width="17.49" height="21.09" fill="#c90f28"/>
<rect x="1319" y="643.97" width="17.49" height="63.26" fill="#0c72ba"/>
<rect x="1319" y="707.24" width="17.49" height="42.17" fill="#c90f28"/>
<rect x="1319" y="749.41" width="17.49" height="21.09" fill="#0c72ba"/>
<rect x="1319" y="770.5" width="17.49" height="84.35" fill="#c90f28"/>
<rect x="1319" y="854.85" width="17.49" height="42.17" fill="#0c72ba"/>
<rect x="1319" y="897.02" width="17.49" height="63.26" fill="#c90f28"/>
<rect x="1319" y="960.29" width="17.49" height="21.09" fill="#0c72ba"/>
<rect x="1319" y="981.38" width="17.49" height="21.09" fill="#c90f28"/>
<rect x="1319" y="1002.46" width="17.49" height="21.09" fill="#0c72ba"/>
<rect x="1319" y="1023.55" width="17.49" height="21.09" fill="#c90f28"/>
<rect x="1319" y="1044.64" width="17.49" height="21.09" fill="#0c72ba"/>
<rect x="1319" y="1065.72" width="17.49" height="21.09" fill="#c90f28"/>
<rect x="1319" y="1086.81" width="17.49" height="21.09" fill="#0c72ba"/>
<rect x="1319" y="1107.9" width="17.49" height="42.17" fill="#c90f28"/>
<rect x="1319" y="1150.07" width="17.49" height="42.18" fill="#0c72ba"/>
<rect x="1319" y="1192.25" width="17.49" height="42.17" fill="#c90f28"/>
<rect x="1319" y="1234.42" width="17.49" height="42.17" fill="#0c72ba"/>
<rect x="1336.49" y="601.8" width="17.49" height="674.8" fill="#c90f28"/>
<rect x="1353.98" y="601.8" width="17.49" height="674.8" fill="#0cab3c"/>
<rect x="1371.47" y="601.8" width="17.49" height="674.8" fill="#000000"/>
<rect x="1388.96" y="601.8" width="17.49" height="674.8" fill="#c90f28"/>
<rect x="1406.45" y="601.8" width="17.49" height="674.8" fill="#0cab3c"/>
<rect x="1423.94" y="601.8" width="34.98" height="674.8" fill="#0c72ba"/>
<rect x="1458.92" y="601.8" width="17.49" height="674.8" fill="#c90f28"/>
<rect x="1476.41" y="601.8" width="17.49" height="674.8" fill="#0c72ba"/>
<rect x="1493.9" y="601.8" width="17.49" height="674.8" fill="#c90f28"/>
<rect x="1511.39" y="601.8" width="52.47" height="674.8" fill="#000000"/>
<rect x="1563.86" y="601.8" width="17.49" height="674.8" fill="#0cab3c"/>
<rect x="1581.35" y="601.8" width="17.49" height="674.8" fill="#0c72ba"/>
<rect x="1598.84" y="601.8" width="17.49" height="674.8" fill="#c90f28"/>
<rect x="1616.33" y="601.8" width="17.49" height="674.8" fill="#0cab3c"/>
<rect x="1633.82" y="601.8" width="34.98" height="674.8" fill="#c90f28"/>
</g>
<g class="s">
<text y="588.2" x="979.25 996.74 1014.23 1031.71 1049.2 1066.69 1084.18 1101.67 1119.16 1136.65 1154.14 1171.63 1189.12 1206.62 1224.11 1241.6 1259.09 1276.58 1294.07 1311.56 1329.04 1346.54 1364.02 1381.52 1399 1416.49 1433.98 1451.47 1468.96 1486.45 1503.94 1521.43 1538.92 1556.41 1573.9 1591.39 1608.88 1626.37 1643.87 1661.35">GCAGTAGTAGCACACACACACTAGTACCTCTGGGACTATT</text>
<text y="618.8" x="979.25 996.74 1014.23 1031.71 1049.2 1066.69 1084.18 1101.67 1119.16 1136.65 1154.14 1171.63 1189.12 1206.62 1224.11 1241.6 1259.09 1276.58 1294.07 1311.56 1329.04 1346.54 1364.02 1381.52 1399 1416.49 1433.98 1451.47 1468.96 1486.45 1503.94 1521.43 1538.92 1556.41 1573.9 1591.39 1608.88 1626.37 1643.87 1661.35">GCAGTAGTAGCACACACACACTAGTACCTCTGGGACTATT</text>
<text y="639.86" x="979.25 996.74 1014.23 1031.71 1049.2 1066.69 1084.18 1101.67 1119.16 1136.65 1154.14 1171.63 1189.12 1206.62 1224.11 1241.6 1259.09 1276.58 1294.07 1311.56 1329.04 1346.54 1364.02 1381.52 1399 1416.49 1433.98 1451.47 1468.96 1486.45 1503.94 1521.43 1538.92 1556.41 1573.9 1591.39 1608.88 1626.37 1643.87 1661.35">GCAGTAGTAGCA<tspan class="m">T</tspan>A<tspan class="m">T</tspan>A<tspan class="m">T</tspan>A<tspan class="m">T</tspan>A<tspan class="m">T</tspan>TAGTACCTCTGGGACTATT</text>
<text y="660.91" x="979.25 996.74 1014.23 1031.71 1049.2 1066.69 1084.18 1101.67 1119.16 1136.65 1154.14 1171.63 1189.12 1206.62 1224.11 1241.6 1259.09 1276.58 1294.07 1311.56 1329.04 1346.54 1364.02 1381.52 1399 1416.49 1433.98 1451.47 1468.96 1486.45 1503.94 1521.43 1538.92 1556.41 1573.9 1591.39 1608.88 1626.37 1643.87 1661.35">GCAGTAGTAGCACA<tspan class="m">T</tspan>A<tspan class="m">T</tspan>ACACTAGTACCTCTGGGACTATT</text>
<text y="681.97" x="979.25 996.74 1014.23 1031.71 1049.2 1066.69 1084.18 1101.67 1119.16 1136.65 1154.14 1171.63 1189.12 1206.62 1224.11 1241.6 1259.09 1276.58 1294.07 1311.56 1329.04 1346.54 1364.02 1381.52 1399 1416.49 1433.98 1451.47 1468.96 1486.45 1503.94 1521.43 1538.92 1556.41 1573.9 1591.39 1608.88 1626.37 1643.87 1661.35">GCAGTAGTAGCA<tspan class="m">T</tspan>A<tspan class="m">T</tspan>A<tspan class="m">T</tspan>ACACTAGTACCTCTGGGACTATT</text>
<text y="703.03" x="979.25 996.74 1014.23 1031.71 1049.2 1066.69 1084.18 1101.67 1119.16 1136.65 1154.14 1171.63 1189.12 1206.62 1224.11 1241.6 1259.09 1276.58 1294.07 1311.56 1329.04 1346.54 1364.02 1381.52 1399 1416.49 1433.98 1451.47 1468.96 1486.45 1503.94 1521.43 1538.92 1556.41 1573.9 1591.39 1608.88 1626.37 1643.87 1661.35">GCAGTAGTAGCACA<tspan class="m">T</tspan>A<tspan class="m">T</tspan>A<tspan class="m">T</tspan>ACTAGTACCTCTGGGACTATT</text>
<text y="724.09" x="979.25 996.74 1014.23 1031.71 1049.2 1066.69 1084.18 1101.67 1119.16 1136.65 1154.14 1171.63 1189.12 1206.62 1224.11 1241.6 1259.09 1276.58 1294.07 1311.56 1329.04 1346.54 1364.02 1381.52 1399 1416.49 1433.98 1451.47 1468.96 1486.45 1503.94 1521.43 1538.92 1556.41 1573.9 1591.39 1608.88 1626.37 1643.87 1661.35">GCAGTAGTAGCACA<tspan class="m">T</tspan>A<tspan class="m">T</tspan>A<tspan class="m">T</tspan>A<tspan class="m">T</tspan>TAGTACCTCTGGGACTATT</text>
<text y="745.14" x="979.25 996.74 1014.23 1031.71 1049.2 1066.69 1084.18 1101.67 1119.16 1136.65 1154.14 1171.63 1189.12 1206.62 1224.11 1241.6 1259.09 1276.58 1294.07 1311.56 1329.04 1346.54 1364.02 1381.52 1399 1416.49 1433.98 1451.47 1468.96 1486.45 1503.94 1521.43 1538.92 1556.41 1573.9 1591.39 1608.88 1626.37 1643.87 1661.35">GCAGTAGTAGCA<tspan class="m">T</tspan>A<tspan class="m">TGT</tspan>A<tspan class="m">T</tspan>A<tspan class="m">T</tspan>TAGTACCTCTGGGACTATT</text>
<text y="766.2" x="979.25 996.74 1014.23 1031.71 1049.2 1066.69 1084.18 1101.67 1119.16 1136.65 1154.14 1171.63 1189.12 1206.62 1224.11 1241.6 1259.09 1276.58 1294.07 1311.56 1329.04 1346.54 1364.02 1381.52 1399 1416.49 1433.98 1451.47 1468.96 1486.45 1503.94 1521.43 1538.92 1556.41 1573.9 1591.39 1608.88 1626.37 1643.87 1661.35">GCAGTAGTAGCA<tspan class="m">T</tspan>A<tspan class="m">T</tspan>A<tspan class="m">T</tspan>A<tspan class="m">T</tspan>ACTAGTACCTCTGGGACTATT</text>
<text y="787.26" x="979.25 996.74 1014.23 1031.71 1049.2 1066.69 1084.18 1101.67 1119.16 1136.65 1154.14 1171.63 1189.12 1206.62 1224.11 1241.6 1259.09 1276.58 1294.07 1311.56 1329.04 1346.54 1364.02 1381.52 1399 1416.49 1433.98 1451.47 1468.96 1486.45 1503.94 1521.43 1538.92 1556.41 1573.9 1591.39 1608.88 1626.37 1643.87 1661.35">GCAGTAGTAGCA<tspan class="m">TGTGTGT</tspan>A<tspan class="m">T</tspan>TAGTACCTCTGGGACTATT</text>
<text y="808.32" x="979.25 996.74 1014.23 1031.71 1049.2 1066.69 1084.18 1101.67 1119.16 1136.65 1154.14 1171.63 1189.12 1206.62 1224.11 1241.6 1259.09 1276.58 1294.07 1311.56 1329.04 1346.54 1364.02 1381.52 1399 1416.49 1433.98 1451.47 1468.96 1486.45 1503.94 1521.43 1538.92 1556.41 1573.9 1591.39 1608.88 1626.37 1643.87 1661.35">GCAGTAGTAGCA<tspan class="m">T</tspan>A<tspan class="m">T</tspan>A<tspan class="m">T</tspan>ACA<tspan class="m">T</tspan>TAGTACCTCTGGGACTATT</text>
<text y="829.38" x="979.25 996.74 1014.23 1031.71 1049.2 1066.69 1084.18 1101.67 1119.16 1136.65 1154.14 1171.63 1189.12 1206.62 1224.11 1241.6 1259.09 1276.58 1294.07 1311.56 1329.04 1346.54 1364.02 1381.52 1399 1416.49 1433.98 1451.47 1468.96 1486.45 1503.94 1521.43 1538.92 1556.41 1573.9 1591.39 1608.88 1626.37 1643.87 1661.35">GCAGTAGTAGCACA<tspan class="m">T</tspan>A<tspan class="m">T</tspan>ACA<tspan class="m">T</tspan>TAGTACCTCTGGGACTATT</text>
<text y="850.43" x="979.25 996.74 1014.23 1031.71 1049.2 1066.69 1084.18 1101.67 1119.16 1136.65 1154.14 1171.63 1189.12 1206.62 1224.11 1241.6 1259.09 1276.58 1294.07 1311.56 1329.04 1346.54 1364.02 1381.52 1399 1416.49 1433.98 1451.47 1468.96 1486.45 1503.94 1521.43 1538.92 1556.41 1573.9 1591.39 1608.88 1626.37 1643.87 1661.35">GCAGTAGTAGCA<tspan class="m">TGTGT</tspan>A<tspan class="m">T</tspan>A<tspan class="m">T</tspan>TAGTACCTCTGGGACTATT</text>
<text y="871.49" x="979.25 996.74 1014.23 1031.71 1049.2 1066.69 1084.18 1101.67 1119.16 1136.65 1154.14 1171.63 1189.12 1206.62 1224.11 1241.6 1259.09 1276.58 1294.07 1311.56 1329.04 1346.54 1364.02 1381.52 1399 1416.49 1433.98 1451.47 1468.96 1486.45 1503.94 1521.43 1538.92 1556.41 1573.9 1591.39 1608.88 1626.37 1643.87 1661.35">GCAGTAGTAGCA<tspan class="m">T</tspan>A<tspan class="m">TGT</tspan>A<tspan class="m">T</tspan>ACTAGTACCTCTGGGACTATT</text>
<text y="892.55" x="979.25 996.74 1014.23 1031.71 1049.2 1066.69 1084.18 1101.67 1119.16 1136.65 1154.14 1171.63 1189.12 1206.62 1224.11 1241.6 1259.09 1276.58 1294.07 1311.56 1329.04 1346.54 1364.02 1381.52 1399 1416.49 1433.98 1451.47 1468.96 1486.45 1503.94 1521.43 1538.92 1556.41 1573.9 1591.39 1608.88 1626.37 1643.87 1661.35">GCAGTAGTAGCACACA<tspan class="m">T</tspan>A<tspan class="m">T</tspan>ACTAGTACCTCTGGGACTATT</text>
<text y="913.6" x="979.25 996.74 1014.23 1031.71 1049.2 1066.69 1084.18 1101.67 1119.16 1136.65 1154.14 1171.63 1189.12 1206.62 1224.11 1241.6 1259.09 1276.58 1294.07 1311.56 1329.04 1346.54 1364.02 1381.52 1399 1416.49 1433.98 1451.47 1468.96 1486.45 1503.94 1521.43 1538.92 1556.41 1573.9 1591.39 1608.88 1626.37 1643.87 1661.35">GCAGTAGTAG<tspan class="m">T</tspan>A<tspan class="m">T</tspan>A<tspan class="m">T</tspan>A<tspan class="m">T</tspan>A<tspan class="m">T</tspan>A<tspan class="m">T</tspan>TAGTACCTCTGGGACTATT</text>
<text y="934.66" x="979.25 996.74 1014.23 1031.71 1049.2 1066.69 1084.18 1101.67 1119.16 1136.65 1154.14 1171.63 1189.12 1206.62 1224.11 1241.6 1259.09 1276.58 1294.07 1311.56 1329.04 1346.54 1364.02 1381.52 1399 1416.49 1433.98 1451.47 1468.96 1486.45 1503.94 1521.43 1538.92 1556.41 1573.9 1591.39 1608.88 1626.37 1643.87 1661.35">GCAGTAGTAG<tspan class="m">T</tspan>A<tspan class="m">T</tspan>A<tspan class="m">TGT</tspan>A<tspan class="m">T</tspan>A<tspan class="m">T</tspan>TAGTACCTCTGGGACTATT</text>
<text y="955.72" x="979.25 996.74 1014.23 1031.71 1049.2 1066.69 1084.18 1101.67 1119.16 1136.65 1154.14 1171.63 1189.12 1206.62 1224.11 1241.6 1259.09 1276.58 1294.07 1311.56 1329.04 1346.54 1364.02 1381.52 1399 1416.49 1433.98 1451.47 1468.96 1486.45 1503.94 1521.43 1538.92 1556.41 1573.9 1591.39 1608.88 1626.37 1643.87 1661.35">GCAGTAGTAGCACA<tspan class="m">TGT</tspan>A<tspan class="m">T</tspan>A<tspan class="m">T</tspan>TAGTACCTCTGGGACTATT</text>
<text y="976.78" x="979.25 996.74 1014.23 1031.71 1049.2 1066.69 1084.18 1101.67 1119.16 1136.65 1154.14 1171.63 1189.12 1206.62 1224.11 1241.6 1259.09 1276.58 1294.07 1311.56 1329.04 1346.54 1364.02 1381.52 1399 1416.49 1433.98 1451.47 1468.96 1486.45 1503.94 1521.43 1538.92 1556.41 1573.9 1591.39 1608.88 1626.37 1643.87 1661.35">GCAGTAGTAGCA<tspan class="m">TGT</tspan>A<tspan class="m">T</tspan>A<tspan class="m">T</tspan>ACTAGTACCTCTGGGACTATT</text>
<text y="997.84" x="979.25 996.74 1014.23 1031.71 1049.2 1066.69 1084.18 1101.67 1119.16 1136.65 1154.14 1171.63 1189.12 1206.62 1224.11 1241.6 1259.09 1276.58 1294.07 1311.56 1329.04 1346.54 1364.02 1381.52 1399 1416.49 1433.98 1451.47 1468.96 1486.45 1503.94 1521.43 1538.92 1556.41 1573.9 1591.39 1608.88 1626.37 1643.87 1661.35">GCAGTAGTAGCA<tspan class="m">T</tspan>A<tspan class="m">TGTGT</tspan>A<tspan class="m">T</tspan>TAGTACCTCTGGGACTATT</text>
<text y="1018.89" x="979.25 996.74 1014.23 1031.71 1049.2 1066.69 1084.18 1101.67 1119.16 1136.65 1154.14 1171.63 1189.12 1206.62 1224.11 1241.6 1259.09 1276.58 1294.07 1311.56 1329.04 1346.54 1364.02 1381.52 1399 1416.49 1433.98 1451.47 1468.96 1486.45 1503.94 1521.43 1538.92 1556.41 1573.9 1591.39 1608.88 1626.37 1643.87 1661.35">GCAGTAGTAGCA<tspan class="m">T</tspan>A<tspan class="m">T</tspan>A<tspan class="m">TGT</tspan>ACTAGTACCTCTGGGACTATT</text>
<text y="1039.95" x="979.25 996.74 1014.23 1031.71 1049.2 1066.69 1084.18 1101.67 1119.16 1136.65 1154.14 1171.63 1189.12 1206.62 1224.11 1241.6 1259.09 1276.58 1294.07 1311.56 1329.04 1346.54 1364.02 1381.52 1399 1416.49 1433.98 1451.47 1468.96 1486.45 1503.94 1521.43 1538.92 1556.41 1573.9 1591.39 1608.88 1626.37 1643.87 1661.35">GCAGTAGTAGCA<tspan class="m">TGT</tspan>A<tspan class="m">T</tspan>A<tspan class="m">T</tspan>A<tspan class="m">T</tspan>TAGTACCTCTGGGACTATT</text>
<text y="1061.01" x="979.25 996.74 1014.23 1031.71 1049.2 1066.69 1084.18 1101.67 1119.16 1136.65 1154.14 1171.63 1189.12 1206.62 1224.11 1241.6 1259.09 1276.58 1294.07 1311.56 1329.04 1346.54 1364.02 1381.52 1399 1416.49 1433.98 1451.47 1468.96 1486.45 1503.94 1521.43 1538.92 1556.41 1573.9 1591.39 1608.88 1626.37 1643.87 1661.35">GCAGTAGTAGCA<tspan class="m">T</tspan>ACA<tspan class="m">T</tspan>A<tspan class="m">T</tspan>ACTAGTACCTCTGGGACTATT</text>
<text y="1082.06" x="979.25 996.74 1014.23 1031.71 1049.2 1066.69 1084.18 1101.67 1119.16 1136.65 1154.14 1171.63 1189.12 1206.62 1224.11 1241.6 1259.09 1276.58 1294.07 1311.56 1329.04 1346.54 1364.02 1381.52 1399 1416.49 1433.98 1451.47 1468.96 1486.45 1503.94 1521.43 1538.92 1556.41 1573.9 1591.39 1608.88 1626.37 1643.87 1661.35">GCAGTAGTAGCA<tspan class="m">T</tspan>A<tspan class="m">T</tspan>A<tspan class="m">TGT</tspan>A<tspan class="m">T</tspan>TAGTACCTCTGGGACTATT</text>
<text y="1103.12" x="979.25 996.74 1014.23 1031.71 1049.2 1066.69 1084.18 1101.67 1119.16 1136.65 1154.14 1171.63 1189.12 1206.62 1224.11 1241.6 1259.09 1276.58 1294.07 1311.56 1329.04 1346.54 1364.02 1381.52 1399 1416.49 1433.98 1451.47 1468.96 1486.45 1503.94 1521.43 1538.92 1556.41 1573.9 1591.39 1608.88 1626.37 1643.87 1661.35">GCAGTAGTAGCACACA<tspan class="m">T</tspan>ACACTAGTACCTCTGGGACTATT</text>
<text y="1124.18" x="979.25 996.74 1014.23 1031.71 1049.2 1066.69 1084.18 1101.67 1119.16 1136.65 1154.14 1171.63 1189.12 1206.62 1224.11 1241.6 1259.09 1276.58 1294.07 1311.56 1329.04 1346.54 1364.02 1381.52 1399 1416.49 1433.98 1451.47 1468.96 1486.45 1503.94 1521.43 1538.92 1556.41 1573.9 1591.39 1608.88 1626.37 1643.87 1661.35">GCAGTAGTAGCACA<tspan class="m">TGT</tspan>ACA<tspan class="m">T</tspan>TAGTACCTCTGGGACTATT</text>
<text y="1145.24" x="979.25 996.74 1014.23 1031.71 1049.2 1066.69 1084.18 1101.67 1119.16 1136.65 1154.14 1171.63 1189.12 1206.62 1224.11 1241.6 1259.09 1276.58 1294.07 1311.56 1329.04 1346.54 1364.02 1381.52 1399 1416.49 1433.98 1451.47 1468.96 1486.45 1503.94 1521.43 1538.92 1556.41 1573.9 1591.39 1608.88 1626.37 1643.87 1661.35">GCAGTAGTAGCA<tspan class="m">T</tspan>A<tspan class="m">TGT</tspan>ACA<tspan class="m">T</tspan>TAGTACCTCTGGGACTATT</text>
<text y="1166.29" x="979.25 996.74 1014.23 1031.71 1049.2 1066.69 1084.18 1101.67 1119.16 1136.65 1154.14 1171.63 1189.12 1206.62 1224.11 1241.6 1259.09 1276.58 1294.07 1311.56 1329.04 1346.54 1364.02 1381.52 1399 1416.49 1433.98 1451.47 1468.96 1486.45 1503.94 1521.43 1538.92 1556.41 1573.9 1591.39 1608.88 1626.37 1643.87 1661.35">GCAGTAGTAGCACA<tspan class="m">TGT</tspan>ACACTAGTACCTCTGGGACTATT</text>
<text y="1187.35" x="979.25 996.74 1014.23 1031.71 1049.2 1066.69 1084.18 1101.67 1119.16 1136.65 1154.14 1171.63 1189.12 1206.62 1224.11 1241.6 1259.09 1276.58 1294.07 1311.56 1329.04 1346.54 1364.02 1381.52 1399 1416.49 1433.98 1451.47 1468.96 1486.45 1503.94 1521.43 1538.92 1556.41 1573.9 1591.39 1608.88 1626.37 1643.87 1661.35">GCAGTAGTAGCACACACAC--TAGTACCTCTGGGACTATT</text>
<text y="1208.41" x="979.25 996.74 1014.23 1031.71 1049.2 1066.69 1084.18 1101.67 1119.16 1136.65 1154.14 1171.63 1189.12 1206.62 1224.11 1241.6 1259.09 1276.58 1294.07 1311.56 1329.04 1346.54 1364.02 1381.52 1399 1416.49 1433.98 1451.47 1468.96 1486.45 1503.94 1521.43 1538.92 1556.41 1573.9 1591.39 1608.88 1626.37 1643.87 1661.35">GCAGTAGTAGCA<tspan class="m">TGT</tspan>A<tspan class="m">TGT</tspan>A<tspan class="m">T</tspan>TAGTACCTCTGGGACTATT</text>
<text y="1229.47" x="979.25 996.74 1014.23 1031.71 1049.2 1066.69 1084.18 1101.67 1119.16 1136.65 1154.14 1171.63 1189.12 1206.62 1224.11 1241.6 1259.09 1276.58 1294.07 1311.56 1329.04 1346.54 1364.02 1381.52 1399 1416.49 1433.98 1451.47 1468.96 1486.45 1503.94 1521.43 1538.92 1556.41 1573.9 1591.39 1608.88 1626.37 1643.87 1661.35">GCAGTAGTAGCACA<tspan class="m">T</tspan>A<tspan class="m">TGT</tspan>A<tspan class="m">T</tspan>TAGTACCTCTGGGACTATT</text>
<text y="1250.52" x="979.25 996.74 1014.23 1031.71 1049.2 1066.69 1084.18 1101.67 1119.16 1136.65 1154.14 1171.63 1189.12 1206.62 1224.11 1241.6 1259.09 1276.58 1294.07 1311.56 1329.04 1346.54 1364.02 1381.52 1399 1416.49 1433.98 1451.47 1468.96 1486.45 1503.94 1521.43 1538.92 1556.41 1573.9 1591.39 1608.88 1626.37 1643.87 1661.35">GCAGTAGTAG<tspan class="m">T</tspan>A<tspan class="m">T</tspan>A<tspan class="m">T</tspan>A<tspan class="m">T</tspan>A<tspan class="m">T</tspan>ACTAGTACCTCTGGGACTATT</text>
<text y="1271.58" x="979.25 996.74 1014.23 1031.71 1049.2 1066.69 1084.18 1101.67 1119.16 1136.65 1154.14 1171.63 1189.12 1206.62 1224.11 1241.6 1259.09 1276.58 1294.07 1311.56 1329.04 1346.54 1364.02 1381.52 1399 1416.49 1433.98 1451.47 1468.96 1486.45 1503.94 1521.43 1538.92 1556.41 1573.9 1591.39 1608.88 1626.37 1643.87 1661.35">GCAGTAGTAG<tspan class="m">T</tspan>ACA<tspan class="m">T</tspan>A<tspan class="m">T</tspan>ACACTAGTACCTCTGGGACTATT</text>
</g>
<g class="k">
<text y="587.9"><tspan x="1672.45">- </tspan><tspan x="1683.1" class="r">Reference</tspan></text>
<text y="618.4"><tspan x="1672.45">- </tspan><tspan x="1683.6">67.40%</tspan><tspan x="1755.4" class="r">(12465 reads)</tspan></text>
<text y="639.49"><tspan x="1672.45">- </tspan><tspan x="1683.6">4.14%</tspan><tspan x="1755.4" class="r">(765 reads)</tspan></text>
<text y="660.57"><tspan x="1672.45">- </tspan><tspan x="1683.6">2.75%</tspan><tspan x="1755.4" class="r">(509 reads)</tspan></text>
<text y="681.66"><tspan x="1672.45">- </tspan><tspan x="1683.6">1.88%</tspan><tspan x="1755.4" class="r">(348 reads)</tspan></text>
<text y="702.75"><tspan x="1672.45">- </tspan><tspan x="1683.6">1.83%</tspan><tspan x="1755.4" class="r">(338 reads)</tspan></text>
<text y="723.84"><tspan x="1672.45">- </tspan><tspan x="1683.6">1.78%</tspan><tspan x="1755.4" class="r">(329 reads)</tspan></text>
<text y="744.92"><tspan x="1672.45">- </tspan><tspan x="1683.6">1.77%</tspan><tspan x="1755.4" class="r">(327 reads)</tspan></text>
<text y="766.01"><tspan x="1672.45">- </tspan><tspan x="1683.6">1.61%</tspan><tspan x="1755.4" class="r">(298 reads)</tspan></text>
<text y="787.1"><tspan x="1672.45">- </tspan><tspan x="1683.6">0.91%</tspan><tspan x="1755.4" class="r">(168 reads)</tspan></text>
<text y="808.19"><tspan x="1672.45">- </tspan><tspan x="1683.6">0.89%</tspan><tspan x="1755.4" class="r">(164 reads)</tspan></text>
<text y="829.27"><tspan x="1672.45">- </tspan><tspan x="1683.6">0.78%</tspan><tspan x="1755.4" class="r">(144 reads)</tspan></text>
<text y="850.36"><tspan x="1672.45">- </tspan><tspan x="1683.6">0.74%</tspan><tspan x="1755.4" class="r">(136 reads)</tspan></text>
<text y="871.45"><tspan x="1672.45">- </tspan><tspan x="1683.6">0.57%</tspan><tspan x="1755.4" class="r">(106 reads)</tspan></text>
<text y="892.54"><tspan x="1672.45">- </tspan><tspan x="1683.6">0.55%</tspan><tspan x="1755.4" class="r">(101 reads)</tspan></text>
<text y="913.62"><tspan x="1672.45">- </tspan><tspan x="1683.6">0.54%</tspan><tspan x="1755.4" class="r">(99 reads)</tspan></text>
<text y="934.71"><tspan x="1672.45">- </tspan><tspan x="1683.6">0.52%</tspan><tspan x="1755.4" class="r">(97 reads)</tspan></text>
<text y="955.8"><tspan x="1672.45">- </tspan><tspan x="1683.6">0.50%</tspan><tspan x="1755.4" class="r">(93 reads)</tspan></text>
<text y="976.89"><tspan x="1672.45">- </tspan><tspan x="1683.6">0.50%</tspan><tspan x="1755.4" class="r">(92 reads)</tspan></text>
<text y="997.98"><tspan x="1672.45">- </tspan><tspan x="1683.6">0.48%</tspan><tspan x="1755.4" class="r">(89 reads)</tspan></text>
<text y="1019.06"><tspan x="1672.45">- </tspan><tspan x="1683.6">0.44%</tspan><tspan x="1755.4" class="r">(81 reads)</tspan></text>
<text y="1040.15"><tspan x="1672.45">- </tspan><tspan x="1683.6">0.37%</tspan><tspan x="1755.4" class="r">(69 reads)</tspan></text>
<text y="1061.24"><tspan x="1672.45">- </tspan><tspan x="1683.6">0.32%</tspan><tspan x="1755.4" class="r">(59 reads)</tspan></text>
<text y="1082.32"><tspan x="1672.45">- </tspan><tspan x="1683.6">0.31%</tspan><tspan x="1755.4" class="r">(57 reads)</tspan></text>
<text y="1103.41"><tspan x="1672.45">- </tspan><tspan x="1683.6">0.30%</tspan><tspan x="1755.4" class="r">(56 reads)</tspan></text>
<text y="1124.5"><tspan x="1672.45">- </tspan><tspan x="1683.6">0.30%</tspan><tspan x="1755.4" class="r">(56 reads)</tspan></text>
<text y="1145.59"><tspan x="1672.45">- </tspan><tspan x="1683.6">0.29%</tspan><tspan x="1755.4" class="r">(54 reads)</tspan></text>
<text y="1166.67"><tspan x="1672.45">- </tspan><tspan x="1683.6">0.23%</tspan><tspan x="1755.4" class="r">(42 reads)</tspan></text>
<text y="1187.76"><tspan x="1672.45">- </tspan><tspan x="1683.6">0.23%</tspan><tspan x="1755.4" class="r">(42 reads)</tspan></text>
<text y="1208.85"><tspan x="1672.45">- </tspan><tspan x="1683.6">0.22%</tspan><tspan x="1755.4" class="r">(41 reads)</tspan></text>
<text y="1229.94"><tspan x="1672.45">- </tspan><tspan x="1683.6">0.22%</tspan><tspan x="1755.4" class="r">(40 reads)</tspan></text>
<text y="1251.02"><tspan x="1672.45">- </tspan><tspan x="1683.6">0.21%</tspan><tspan x="1755.4" class="r">(39 reads)</tspan></text>
<text y="1272.11"><tspan x="1672.45">- </tspan><tspan x="1683.6">0.20%</tspan><tspan x="1755.4" class="r">(37 reads)</tspan></text>
</g>
<rect x="1144.1" y="569.2" width="402.1" height="711.6" fill="none" stroke="#0a0a0a" stroke-width="1.7"/>
<g id="chart">
<g shape-rendering="crispEdges">
<rect x="161.8" y="2047.05" width="31.9" height="6.35" fill="#66c2a5"/>
<rect x="193.7" y="2047.61" width="31.9" height="5.79" fill="#fc8d62"/>
<rect x="225.6" y="2051.16" width="31.9" height="2.24" fill="#8da0cb"/>
<rect x="257.5" y="2048.92" width="31.9" height="4.48" fill="#a50006"/>
<rect x="289.4" y="2051.53" width="31.9" height="1.87" fill="#a6d854"/>
<rect x="321.3" y="2049.29" width="31.9" height="4.11" fill="#d6d79c"/>
<rect x="353.2" y="1794.68" width="31.9" height="258.72" fill="#549ffb"/>
<rect x="385.1" y="2049.66" width="31.9" height="3.74" fill="#a4a4a8"/>
<rect x="433" y="2050.04" width="31.9" height="3.36" fill="#66c2a5"/>
<rect x="464.9" y="2049.85" width="31.9" height="3.55" fill="#fc8d62"/>
<rect x="496.8" y="2047.24" width="31.9" height="6.16" fill="#8da0cb"/>
<rect x="528.7" y="2050.6" width="31.9" height="2.8" fill="#a50006"/>
<rect x="560.6" y="2051.53" width="31.9" height="1.87" fill="#a6d854"/>
<rect x="592.5" y="2050.78" width="31.9" height="2.62" fill="#d6d79c"/>
<rect x="624.4" y="1824.57" width="31.9" height="228.83" fill="#549ffb"/>
<rect x="656.3" y="2050.41" width="31.9" height="2.99" fill="#a4a4a8"/>
<rect x="704.2" y="2052.84" width="31.9" height="0.56" fill="#66c2a5"/>
<rect x="736.1" y="2052.84" width="31.9" height="0.56" fill="#fc8d62"/>
<rect x="768" y="2052.84" width="31.9" height="0.56" fill="#8da0cb"/>
<rect x="799.9" y="2052.84" width="31.9" height="0.56" fill="#a50006"/>
<rect x="831.8" y="2052.84" width="31.9" height="0.56" fill="#a6d854"/>
<rect x="863.7" y="2052.84" width="31.9" height="0.56" fill="#d6d79c"/>
<rect x="895.6" y="1935.72" width="31.9" height="117.68" fill="#549ffb"/>
<rect x="927.5" y="2053.21" width="31.9" height="0.19" fill="#a4a4a8"/>
<rect x="975.4" y="2049.66" width="31.9" height="3.74" fill="#66c2a5"/>
<rect x="1007.3" y="2050.04" width="31.9" height="3.36" fill="#fc8d62"/>
<rect x="1039.2" y="2050.04" width="31.9" height="3.36" fill="#8da0cb"/>
<rect x="1071.1" y="2048.92" width="31.9" height="4.48" fill="#a50006"/>
<rect x="1103" y="2050.78" width="31.9" height="2.62" fill="#a6d854"/>
<rect x="1134.9" y="2050.22" width="31.9" height="3.18" fill="#d6d79c"/>
<rect x="1166.8" y="1896.67" width="31.9" height="156.73" fill="#549ffb"/>
<rect x="1198.7" y="2049.66" width="31.9" height="3.74" fill="#a4a4a8"/>
<rect x="1246.6" y="2044.06" width="31.9" height="9.34" fill="#66c2a5"/>
<rect x="1278.5" y="2042.57" width="31.9" height="10.83" fill="#fc8d62"/>
<rect x="1310.4" y="2045.37" width="31.9" height="8.03" fill="#8da0cb"/>
<rect x="1342.3" y="2046.3" width="31.9" height="7.1" fill="#a50006"/>
<rect x="1374.2" y="2044.81" width="31.9" height="8.59" fill="#a6d854"/>
<rect x="1406.1" y="2042.19" width="31.9" height="11.21" fill="#d6d79c"/>
<rect x="1438" y="1833.35" width="31.9" height="220.05" fill="#549ffb"/>
<rect x="1469.9" y="2044.81" width="31.9" height="8.59" fill="#a4a4a8"/>
<rect x="1517.8" y="2046.86" width="31.9" height="6.54" fill="#66c2a5"/>
<rect x="1549.7" y="2045.74" width="31.9" height="7.66" fill="#fc8d62"/>
<rect x="1581.6" y="2044.25" width="31.9" height="9.15" fill="#8da0cb"/>
<rect x="1613.5" y="2044.43" width="31.9" height="8.97" fill="#a50006"/>
<rect x="1645.4" y="2046.11" width="31.9" height="7.29" fill="#a6d854"/>
<rect x="1677.3" y="2046.3" width="31.9" height="7.1" fill="#d6d79c"/>
<rect x="1709.2" y="1762.18" width="31.9" height="291.22" fill="#549ffb"/>
<rect x="1741.1" y="2044.06" width="31.9" height="9.34" fill="#a4a4a8"/>
</g>
<path d="M177.75 2042.75V2051.53M169.75 2042.75h16M169.75 2051.53h16M209.65 2045.93V2049.66M201.65 2045.93h16M201.65 2049.66h16M241.55 2049.66V2052.47M233.55 2049.66h16M233.55 2052.47h16M273.45 2046.68V2051.16M265.45 2046.68h16M265.45 2051.16h16M305.35 2050.41V2052.47M297.35 2050.41h16M297.35 2052.47h16M337.25 2047.05V2051.53M329.25 2047.05h16M329.25 2051.53h16M369.15 1781.61V1809.44M361.15 1781.61h16M361.15 1809.44h16M401.05 2047.61V2051.53M393.05 2047.61h16M393.05 2051.53h16M448.95 2047.8V2052.09M440.95 2047.8h16M440.95 2052.09h16M480.85 2049.29V2050.41M472.85 2049.29h16M472.85 2050.41h16M512.75 2045.37V2048.92M504.75 2045.37h16M504.75 2048.92h16M544.65 2049.85V2051.53M536.65 2049.85h16M536.65 2051.53h16M576.55 2050.97V2052.28M568.55 2050.97h16M568.55 2052.28h16M608.45 2049.66V2051.91M600.45 2049.66h16M600.45 2051.91h16M640.35 1775.07V1875.94M632.35 1775.07h16M632.35 1875.94h16M672.25 2050.04V2050.78M664.25 2050.04h16M664.25 2050.78h16M911.55 1899.29V1973.08M903.55 1899.29h16M903.55 1973.08h16M991.35 2047.24V2051.91M983.35 2047.24h16M983.35 2051.91h16M1023.25 2048.36V2051.91M1015.25 2048.36h16M1015.25 2051.91h16M1055.15 2048.36V2051.53M1047.15 2048.36h16M1047.15 2051.53h16M1087.05 2047.05V2050.97M1079.05 2047.05h16M1079.05 2050.97h16M1118.95 2049.66V2051.91M1110.95 2049.66h16M1110.95 2051.91h16M1150.85 2048.54V2051.72M1142.85 2048.54h16M1142.85 2051.72h16M1182.75 1867.91V1924.88M1174.75 1867.91h16M1174.75 1924.88h16M1214.65 2047.42V2051.53M1206.65 2047.42h16M1206.65 2051.53h16M1262.55 2042.57V2045.55M1254.55 2042.57h16M1254.55 2045.55h16M1294.45 2037.15V2047.8M1286.45 2037.15h16M1286.45 2047.8h16M1326.35 2044.06V2046.49M1318.35 2044.06h16M1318.35 2046.49h16M1358.25 2045.55V2046.86M1350.25 2045.55h16M1350.25 2046.86h16M1390.15 2043.87V2045.74M1382.15 2043.87h16M1382.15 2045.74h16M1422.05 2038.46V2045.55M1414.05 2038.46h16M1414.05 2045.55h16M1453.95 1811.87V1855.39M1445.95 1811.87h16M1445.95 1855.39h16M1485.85 2043.69V2046.11M1477.85 2043.69h16M1477.85 2046.11h16M1533.75 2046.3V2047.42M1525.75 2046.3h16M1525.75 2047.42h16M1565.65 2044.99V2046.49M1557.65 2044.99h16M1557.65 2046.49h16M1597.55 2040.88V2047.61M1589.55 2040.88h16M1589.55 2047.61h16M1629.45 2043.13V2045.55M1621.45 2043.13h16M1621.45 2045.55h16M1661.35 2045.37V2046.86M1653.35 2045.37h16M1653.35 2046.86h16M1693.25 2045.74V2046.68M1685.25 2045.74h16M1685.25 2046.68h16M1725.15 1695.68V1828.12M1717.15 1695.68h16M1717.15 1828.12h16M1757.05 2042.19V2046.11M1749.05 2042.19h16M1749.05 2046.11h16" fill="none" stroke="#000" stroke-width="1.6"/>
<path d="M145.5 1491.7V2054.9" stroke="#000" stroke-width="3" fill="none"/>
<path d="M129.8 2053.4H1790" stroke="#000" stroke-width="3" fill="none"/>
<path d="M130 1866.6H145.5M130 1679.8H145.5M130 1493H145.5M136.8 1960H145.5M136.8 1773.2H145.5M136.8 1586.4H145.5M289.4 2053.4V2069.4M560.6 2053.4V2069.4M831.8 2053.4V2069.4M1103 2053.4V2069.4M1374.2 2053.4V2069.4M1645.4 2053.4V2069.4" stroke="#000" stroke-width="2.7" fill="none"/>
<circle cx="177.75" cy="2038.46" r="2.9" fill="#000"/>
<circle cx="181.95" cy="2049.29" r="2.9" fill="#000"/>
<circle cx="173.15" cy="2053.4" r="2.9" fill="#000"/>
<circle cx="201.15" cy="2045.55" r="2.9" fill="#000"/>
<circle cx="218.15" cy="2045.93" r="2.9" fill="#000"/>
<circle cx="209.65" cy="2051.35" r="2.9" fill="#000"/>
<circle cx="233.05" cy="2049.1" r="2.9" fill="#000"/>
<circle cx="250.05" cy="2050.04" r="2.9" fill="#000"/>
<circle cx="241.55" cy="2053.4" r="2.9" fill="#000"/>
<circle cx="264.95" cy="2044.99" r="2.9" fill="#000"/>
<circle cx="281.65" cy="2047.98" r="2.9" fill="#000"/>
<circle cx="273.45" cy="2052.84" r="2.9" fill="#000"/>
<circle cx="296.85" cy="2050.04" r="2.9" fill="#000"/>
<circle cx="313.85" cy="2050.41" r="2.9" fill="#000"/>
<circle cx="305.35" cy="2053.4" r="2.9" fill="#000"/>
<circle cx="328.75" cy="2044.99" r="2.9" fill="#000"/>
<circle cx="345.45" cy="2049.66" r="2.9" fill="#000"/>
<circle cx="337.25" cy="2053.4" r="2.9" fill="#000"/>
<circle cx="369.15" cy="1768.53" r="2.9" fill="#000"/>
<circle cx="369.15" cy="1803.09" r="2.9" fill="#000"/>
<circle cx="369.15" cy="1815.23" r="2.9" fill="#000"/>
<circle cx="392.55" cy="2046.3" r="2.9" fill="#000"/>
<circle cx="409.55" cy="2049.29" r="2.9" fill="#000"/>
<circle cx="401.05" cy="2052.84" r="2.9" fill="#000"/>
<circle cx="440.45" cy="2045.55" r="2.9" fill="#000"/>
<circle cx="457.45" cy="2050.97" r="2.9" fill="#000"/>
<circle cx="448.95" cy="2052.84" r="2.9" fill="#000"/>
<circle cx="472.35" cy="2049.29" r="2.9" fill="#000"/>
<circle cx="480.85" cy="2050.41" r="2.9" fill="#000"/>
<circle cx="489.35" cy="2049.66" r="2.9" fill="#000"/>
<circle cx="504.25" cy="2044.06" r="2.9" fill="#000"/>
<circle cx="521.25" cy="2046.68" r="2.9" fill="#000"/>
<circle cx="512.75" cy="2050.41" r="2.9" fill="#000"/>
<circle cx="536.15" cy="2049.66" r="2.9" fill="#000"/>
<circle cx="544.65" cy="2052.09" r="2.9" fill="#000"/>
<circle cx="553.15" cy="2050.04" r="2.9" fill="#000"/>
<circle cx="568.05" cy="2050.97" r="2.9" fill="#000"/>
<circle cx="576.55" cy="2052.84" r="2.9" fill="#000"/>
<circle cx="585.05" cy="2050.97" r="2.9" fill="#000"/>
<circle cx="599.95" cy="2049.29" r="2.9" fill="#000"/>
<circle cx="608.45" cy="2052.65" r="2.9" fill="#000"/>
<circle cx="616.95" cy="2050.41" r="2.9" fill="#000"/>
<circle cx="640.35" cy="1723.7" r="2.9" fill="#000"/>
<circle cx="644.55" cy="1872.58" r="2.9" fill="#000"/>
<circle cx="636.15" cy="1878.18" r="2.9" fill="#000"/>
<circle cx="663.75" cy="2050.41" r="2.9" fill="#000"/>
<circle cx="672.25" cy="2050.78" r="2.9" fill="#000"/>
<circle cx="680.75" cy="2050.04" r="2.9" fill="#000"/>
<circle cx="711.65" cy="2052.28" r="2.9" fill="#000"/>
<circle cx="720.15" cy="2053.03" r="2.9" fill="#000"/>
<circle cx="728.65" cy="2052.84" r="2.9" fill="#000"/>
<circle cx="743.55" cy="2052.28" r="2.9" fill="#000"/>
<circle cx="752.05" cy="2053.03" r="2.9" fill="#000"/>
<circle cx="760.55" cy="2052.84" r="2.9" fill="#000"/>
<circle cx="775.45" cy="2052.28" r="2.9" fill="#000"/>
<circle cx="783.95" cy="2053.03" r="2.9" fill="#000"/>
<circle cx="792.45" cy="2052.84" r="2.9" fill="#000"/>
<circle cx="807.35" cy="2052.28" r="2.9" fill="#000"/>
<circle cx="815.85" cy="2053.03" r="2.9" fill="#000"/>
<circle cx="824.35" cy="2052.84" r="2.9" fill="#000"/>
<circle cx="839.25" cy="2052.47" r="2.9" fill="#000"/>
<circle cx="847.75" cy="2053.21" r="2.9" fill="#000"/>
<circle cx="856.25" cy="2053.03" r="2.9" fill="#000"/>
<circle cx="871.15" cy="2052.09" r="2.9" fill="#000"/>
<circle cx="879.65" cy="2053.03" r="2.9" fill="#000"/>
<circle cx="888.15" cy="2053.21" r="2.9" fill="#000"/>
<circle cx="911.55" cy="1864.73" r="2.9" fill="#000"/>
<circle cx="911.55" cy="1955.33" r="2.9" fill="#000"/>
<circle cx="911.55" cy="1988.02" r="2.9" fill="#000"/>
<circle cx="934.95" cy="2053.21" r="2.9" fill="#000"/>
<circle cx="943.45" cy="2053.4" r="2.9" fill="#000"/>
<circle cx="951.95" cy="2053.4" r="2.9" fill="#000"/>
<circle cx="982.85" cy="2044.62" r="2.9" fill="#000"/>
<circle cx="999.85" cy="2049.66" r="2.9" fill="#000"/>
<circle cx="991.35" cy="2053.4" r="2.9" fill="#000"/>
<circle cx="1014.75" cy="2047.24" r="2.9" fill="#000"/>
<circle cx="1031.75" cy="2050.04" r="2.9" fill="#000"/>
<circle cx="1023.25" cy="2053.4" r="2.9" fill="#000"/>
<circle cx="1046.65" cy="2047.61" r="2.9" fill="#000"/>
<circle cx="1063.65" cy="2049.1" r="2.9" fill="#000"/>
<circle cx="1055.15" cy="2052.84" r="2.9" fill="#000"/>
<circle cx="1078.55" cy="2046.68" r="2.9" fill="#000"/>
<circle cx="1095.55" cy="2047.24" r="2.9" fill="#000"/>
<circle cx="1087.05" cy="2052.84" r="2.9" fill="#000"/>
<circle cx="1110.45" cy="2049.1" r="2.9" fill="#000"/>
<circle cx="1127.45" cy="2050.04" r="2.9" fill="#000"/>
<circle cx="1118.95" cy="2052.84" r="2.9" fill="#000"/>
<circle cx="1142.35" cy="2048.36" r="2.9" fill="#000"/>
<circle cx="1159.35" cy="2048.73" r="2.9" fill="#000"/>
<circle cx="1150.85" cy="2052.84" r="2.9" fill="#000"/>
<circle cx="1182.75" cy="1844.93" r="2.9" fill="#000"/>
<circle cx="1182.75" cy="1903.4" r="2.9" fill="#000"/>
<circle cx="1182.75" cy="1943.19" r="2.9" fill="#000"/>
<circle cx="1206.15" cy="2045.93" r="2.9" fill="#000"/>
<circle cx="1223.15" cy="2048.73" r="2.9" fill="#000"/>
<circle cx="1214.65" cy="2052.84" r="2.9" fill="#000"/>
<circle cx="1254.25" cy="2040.88" r="2.9" fill="#000"/>
<circle cx="1262.55" cy="2045.55" r="2.9" fill="#000"/>
<circle cx="1270.85" cy="2044.99" r="2.9" fill="#000"/>
<circle cx="1294.45" cy="2032.67" r="2.9" fill="#000"/>
<circle cx="1290.15" cy="2047.98" r="2.9" fill="#000"/>
<circle cx="1298.65" cy="2046.3" r="2.9" fill="#000"/>
<circle cx="1318.05" cy="2042.94" r="2.9" fill="#000"/>
<circle cx="1326.35" cy="2047.05" r="2.9" fill="#000"/>
<circle cx="1334.65" cy="2044.99" r="2.9" fill="#000"/>
<circle cx="1349.95" cy="2044.62" r="2.9" fill="#000"/>
<circle cx="1358.25" cy="2046.68" r="2.9" fill="#000"/>
<circle cx="1366.55" cy="2046.3" r="2.9" fill="#000"/>
<circle cx="1381.85" cy="2042.94" r="2.9" fill="#000"/>
<circle cx="1390.15" cy="2045.93" r="2.9" fill="#000"/>
<circle cx="1398.45" cy="2044.99" r="2.9" fill="#000"/>
<circle cx="1422.05" cy="2035.09" r="2.9" fill="#000"/>
<circle cx="1417.65" cy="2045.93" r="2.9" fill="#000"/>
<circle cx="1426.35" cy="2044.06" r="2.9" fill="#000"/>
<circle cx="1453.95" cy="1791.51" r="2.9" fill="#000"/>
<circle cx="1453.95" cy="1844.18" r="2.9" fill="#000"/>
<circle cx="1453.95" cy="1865.29" r="2.9" fill="#000"/>
<circle cx="1477.55" cy="2042.94" r="2.9" fill="#000"/>
<circle cx="1485.85" cy="2047.05" r="2.9" fill="#000"/>
<circle cx="1494.15" cy="2044.25" r="2.9" fill="#000"/>
<circle cx="1525.45" cy="2045.74" r="2.9" fill="#000"/>
<circle cx="1533.75" cy="2047.61" r="2.9" fill="#000"/>
<circle cx="1542.05" cy="2046.68" r="2.9" fill="#000"/>
<circle cx="1557.35" cy="2044.62" r="2.9" fill="#000"/>
<circle cx="1565.65" cy="2047.05" r="2.9" fill="#000"/>
<circle cx="1573.95" cy="2044.62" r="2.9" fill="#000"/>
<circle cx="1589.25" cy="2038.46" r="2.9" fill="#000"/>
<circle cx="1597.55" cy="2047.05" r="2.9" fill="#000"/>
<circle cx="1605.85" cy="2046.3" r="2.9" fill="#000"/>
<circle cx="1621.15" cy="2041.63" r="2.9" fill="#000"/>
<circle cx="1629.45" cy="2045.55" r="2.9" fill="#000"/>
<circle cx="1637.75" cy="2044.62" r="2.9" fill="#000"/>
<circle cx="1653.05" cy="2044.25" r="2.9" fill="#000"/>
<circle cx="1661.35" cy="2046.68" r="2.9" fill="#000"/>
<circle cx="1669.65" cy="2045.55" r="2.9" fill="#000"/>
<circle cx="1684.95" cy="2044.99" r="2.9" fill="#000"/>
<circle cx="1693.25" cy="2046.3" r="2.9" fill="#000"/>
<circle cx="1701.55" cy="2045.74" r="2.9" fill="#000"/>
<circle cx="1725.15" cy="1657.94" r="2.9" fill="#000"/>
<circle cx="1725.15" cy="1742.75" r="2.9" fill="#000"/>
<circle cx="1725.15" cy="1885.28" r="2.9" fill="#000"/>
<circle cx="1748.75" cy="2040.88" r="2.9" fill="#000"/>
<circle cx="1757.05" cy="2047.61" r="2.9" fill="#000"/>
<circle cx="1765.35" cy="2044.06" r="2.9" fill="#000"/>
<text x="120.8" y="2061.4" font-size="21.6" text-anchor="end">0</text>
<text x="120.8" y="1874.6" font-size="21.6" text-anchor="end">10</text>
<text x="120.8" y="1687.8" font-size="21.6" text-anchor="end">20</text>
<text x="120.8" y="1501" font-size="21.6" text-anchor="end">30</text>
<text x="286.8" y="2098.1" font-size="21.7" text-anchor="middle" font-style="italic">OsAAT</text>
<text x="561.8" y="2098.1" font-size="21.7" text-anchor="middle" font-style="italic">OsACC</text>
<text x="830.6" y="2098.1" font-size="21.7" text-anchor="middle" font-style="italic">OsCDC48</text>
<text x="1104.8" y="2098.1" font-size="21.7" text-anchor="middle" font-style="italic">OsDEP1</text>
<text x="1375" y="2098.1" font-size="21.7" text-anchor="middle" font-style="italic">OsEV</text>
<text x="1646.6" y="2098.1" font-size="21.7" text-anchor="middle" font-style="italic">OsOD</text>
<text transform="translate(73.9 1778.5) rotate(-90)" font-size="21.8" text-anchor="middle">% of reads with indels</text>
<text x="954.4" y="1492.9" font-size="24.3" letter-spacing="0.45">Indels</text>
<g shape-rendering="crispEdges">
<rect x="798" y="1546.8" width="60" height="20.9" fill="#66c2a5"/>
<rect x="798" y="1585.3" width="60" height="20.9" fill="#fc8d62"/>
<rect x="798" y="1625.8" width="60" height="20.9" fill="#a6d854"/>
<rect x="798" y="1663" width="60" height="20.9" fill="#8da0cb"/>
<rect x="1010.9" y="1546.8" width="59.8" height="20.9" fill="#a50006"/>
<rect x="1010.9" y="1585.3" width="59.8" height="20.9" fill="#d6d79c"/>
<rect x="1010.9" y="1625.8" width="59.8" height="20.9" fill="#549ffb"/>
<rect x="1010.9" y="1663" width="59.8" height="20.9" fill="#a4a4a8"/>
</g>
<text x="866.9" y="1563.8" font-size="21.2" letter-spacing="0.35">A3A-PBE</text>
<text x="866.9" y="1603" font-size="21.2" letter-spacing="0.35">PABE-7</text>
<text x="866.9" y="1642.8" font-size="21.2" letter-spacing="0.35">STEME-1</text>
<text x="866.9" y="1682.3" font-size="21.2" letter-spacing="0.35">STEME-2</text>
<text x="1083.9" y="1563.8" font-size="21.2" letter-spacing="0.38">STEME-3</text>
<text x="1083.9" y="1604.3" font-size="21.2" letter-spacing="0.38">STEME-4</text>
<text x="1083.9" y="1644" font-size="21.2" letter-spacing="0.38">Cas9</text>
<text x="1083.9" y="1682.3" font-size="21.2" letter-spacing="0.38">Untreated</text>
</g>
</svg>
</body></html>
